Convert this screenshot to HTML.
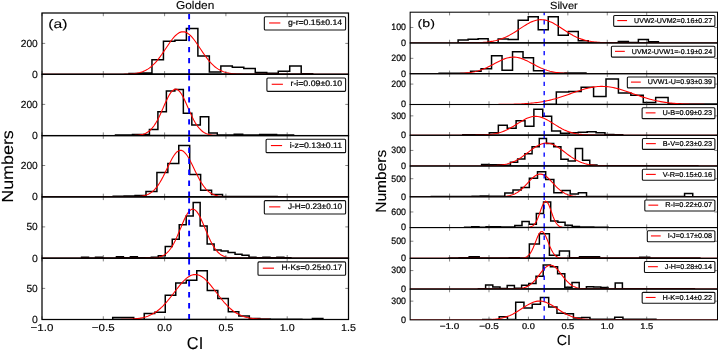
<!DOCTYPE html>
<html><head><meta charset="utf-8"><style>
html,body{margin:0;padding:0;background:#fff;width:718px;height:350px;overflow:hidden}
svg{display:block}
text{font-family:"Liberation Sans",sans-serif;text-rendering:geometricPrecision}
</style></head><body>
<svg width="718" height="350" viewBox="0 0 718 350">
<rect width="718" height="350" fill="#fff"/>
<g style="opacity:0.999">
<clipPath id="c42_0"><rect x="42.0" y="13.00" width="306.50" height="61.30"/></clipPath>
<g clip-path="url(#c42_0)">
<path d="M129.00,74.30 L129.00,73.50 L140.48,73.50 L140.48,72.90 L151.96,72.90 L151.96,59.80 L163.44,59.80 L163.44,41.20 L174.92,41.20 L174.92,40.30 L186.40,40.30 L186.40,28.60 L197.88,28.60 L197.88,56.10 L209.36,56.10 L209.36,71.90 L220.84,71.90 L220.84,66.10 L232.32,66.10 L232.32,67.20 L243.80,67.20 L243.80,68.50 L255.28,68.50 L255.28,72.60 L266.76,72.60 L266.76,73.30 L278.24,73.30 L278.24,71.20 L289.72,71.20 L289.72,66.10 L301.20,66.10 L301.20,73.70 L312.68,73.70 L312.68,74.30Z" fill="none" stroke="#000" stroke-width="1.5" stroke-linejoin="miter"/>
<polyline points="42.00,74.30 43.53,74.30 45.07,74.30 46.60,74.30 48.13,74.30 49.66,74.30 51.19,74.30 52.73,74.30 54.26,74.30 55.79,74.30 57.33,74.30 58.86,74.30 60.39,74.30 61.92,74.30 63.46,74.30 64.99,74.30 66.52,74.30 68.05,74.30 69.58,74.30 71.12,74.30 72.65,74.30 74.18,74.30 75.72,74.30 77.25,74.30 78.78,74.30 80.31,74.30 81.84,74.30 83.38,74.30 84.91,74.30 86.44,74.30 87.97,74.30 89.51,74.30 91.04,74.30 92.57,74.30 94.11,74.30 95.64,74.30 97.17,74.30 98.70,74.30 100.23,74.30 101.77,74.30 103.30,74.30 104.83,74.30 106.37,74.30 107.90,74.30 109.43,74.30 110.96,74.29 112.49,74.29 114.03,74.29 115.56,74.28 117.09,74.27 118.62,74.26 120.16,74.25 121.69,74.23 123.22,74.20 124.76,74.17 126.29,74.12 127.82,74.06 129.35,73.98 130.88,73.88 132.42,73.75 133.95,73.58 135.48,73.38 137.01,73.12 138.55,72.81 140.08,72.43 141.61,71.97 143.14,71.42 144.68,70.77 146.21,70.01 147.74,69.13 149.27,68.11 150.81,66.95 152.34,65.65 153.87,64.20 155.41,62.59 156.94,60.84 158.47,58.94 160.00,56.93 161.54,54.80 163.07,52.58 164.60,50.30 166.13,48.00 167.66,45.70 169.20,43.45 170.73,41.29 172.26,39.26 173.79,37.39 175.33,35.74 176.86,34.33 178.39,33.20 179.93,32.37 181.46,31.87 182.99,31.70 184.52,31.87 186.06,32.37 187.59,33.20 189.12,34.33 190.65,35.74 192.19,37.39 193.72,39.26 195.25,41.29 196.78,43.45 198.31,45.70 199.85,48.00 201.38,50.30 202.91,52.58 204.45,54.80 205.98,56.93 207.51,58.94 209.04,60.84 210.58,62.59 212.11,64.20 213.64,65.65 215.17,66.95 216.71,68.11 218.24,69.13 219.77,70.01 221.30,70.77 222.84,71.42 224.37,71.97 225.90,72.43 227.43,72.81 228.97,73.12 230.50,73.38 232.03,73.58 233.56,73.75 235.09,73.88 236.63,73.98 238.16,74.06 239.69,74.12 241.22,74.17 242.76,74.20 244.29,74.23 245.82,74.25 247.36,74.26 248.89,74.27 250.42,74.28 251.95,74.29 253.49,74.29 255.02,74.29 256.55,74.30 258.08,74.30 259.62,74.30 261.15,74.30 262.68,74.30 264.21,74.30 265.75,74.30 267.28,74.30 268.81,74.30 270.34,74.30 271.88,74.30 273.41,74.30 274.94,74.30 276.47,74.30 278.00,74.30 279.54,74.30 281.07,74.30 282.60,74.30 284.13,74.30 285.67,74.30 287.20,74.30 288.73,74.30 290.26,74.30 291.80,74.30 293.33,74.30 294.86,74.30 296.39,74.30 297.93,74.30 299.46,74.30 300.99,74.30 302.52,74.30 304.06,74.30 305.59,74.30 307.12,74.30 308.65,74.30 310.19,74.30 311.72,74.30 313.25,74.30 314.79,74.30 316.32,74.30 317.85,74.30 319.38,74.30 320.91,74.30 322.45,74.30 323.98,74.30 325.51,74.30 327.05,74.30 328.58,74.30 330.11,74.30 331.64,74.30 333.18,74.30 334.71,74.30 336.24,74.30 337.77,74.30 339.31,74.30 340.84,74.30 342.37,74.30 343.90,74.30 345.44,74.30 346.97,74.30 348.50,74.30" fill="none" stroke="#f00" stroke-width="1.1"/>
<line x1="189.12" y1="74.30" x2="189.12" y2="13.00" stroke="#00f" stroke-width="1.9" stroke-dasharray="5.4 5.6"/>
</g>
<path d="M42.00,74.30v-3.2M42.00,13.00v3.2M103.30,74.30v-3.2M103.30,13.00v3.2M164.60,74.30v-3.2M164.60,13.00v3.2M225.90,74.30v-3.2M225.90,13.00v3.2M287.20,74.30v-3.2M287.20,13.00v3.2M348.50,74.30v-3.2M348.50,13.00v3.2M42.00,43.40h3.2M348.50,43.40h-3.2" stroke="#333" stroke-width="0.6" fill="none"/>
<rect x="42.0" y="13.00" width="306.50" height="61.30" fill="none" stroke="#000" stroke-width="1.25"/>
<text x="37.80" y="46.90" font-size="10.30" text-anchor="end" textLength="17.03" lengthAdjust="spacingAndGlyphs" fill="#000" stroke="#000" stroke-width="0.15">200</text>
<text x="37.80" y="77.80" font-size="10.30" text-anchor="end" textLength="5.85" lengthAdjust="spacingAndGlyphs" fill="#000" stroke="#000" stroke-width="0.15">0</text>
<rect x="264.34" y="16.70" width="81.26" height="13.35" rx="1" fill="#fff" stroke="#111" stroke-width="1.1"/>
<line x1="269.14" y1="22.97" x2="280.34" y2="22.97" stroke="#f00" stroke-width="1.1"/>
<text x="287.94" y="25.15" font-size="8.00" text-anchor="start" textLength="54.26" lengthAdjust="spacingAndGlyphs" fill="#000" stroke="#000" stroke-width="0.22">g-r=0.15±0.14</text>
<clipPath id="c42_1"><rect x="42.0" y="74.30" width="306.50" height="61.30"/></clipPath>
<g clip-path="url(#c42_1)">
<path d="M115.50,135.60 L115.50,134.90 L123.98,134.90 L123.98,134.90 L132.46,134.90 L132.46,134.60 L140.94,134.60 L140.94,134.40 L149.42,134.40 L149.42,129.60 L157.90,129.60 L157.90,111.70 L166.38,111.70 L166.38,91.00 L174.86,91.00 L174.86,89.50 L183.34,89.50 L183.34,113.20 L191.82,113.20 L191.82,124.90 L200.30,124.90 L200.30,116.80 L208.78,116.80 L208.78,132.90 L217.26,132.90 L217.26,135.00 L225.74,135.00 L225.74,135.10 L234.22,135.10 L234.22,134.30 L242.70,134.30 L242.70,135.10 L251.18,135.10 L251.18,135.10 L259.66,135.10 L259.66,134.40 L268.14,134.40 L268.14,134.40 L276.62,134.40 L276.62,135.10 L285.10,135.10 L285.10,134.90 L293.58,134.90 L293.58,135.60Z" fill="none" stroke="#000" stroke-width="1.5" stroke-linejoin="miter"/>
<polyline points="42.00,135.60 43.53,135.60 45.07,135.60 46.60,135.60 48.13,135.60 49.66,135.60 51.19,135.60 52.73,135.60 54.26,135.60 55.79,135.60 57.33,135.60 58.86,135.60 60.39,135.60 61.92,135.60 63.46,135.60 64.99,135.60 66.52,135.60 68.05,135.60 69.58,135.60 71.12,135.60 72.65,135.60 74.18,135.60 75.72,135.60 77.25,135.60 78.78,135.60 80.31,135.60 81.84,135.60 83.38,135.60 84.91,135.60 86.44,135.60 87.97,135.60 89.51,135.60 91.04,135.60 92.57,135.60 94.11,135.60 95.64,135.60 97.17,135.60 98.70,135.60 100.23,135.60 101.77,135.60 103.30,135.60 104.83,135.60 106.37,135.60 107.90,135.60 109.43,135.60 110.96,135.60 112.49,135.60 114.03,135.60 115.56,135.60 117.09,135.60 118.62,135.60 120.16,135.60 121.69,135.60 123.22,135.60 124.76,135.59 126.29,135.59 127.82,135.58 129.35,135.56 130.88,135.54 132.42,135.51 133.95,135.46 135.48,135.38 137.01,135.27 138.55,135.12 140.08,134.91 141.61,134.61 143.14,134.21 144.68,133.68 146.21,132.99 147.74,132.10 149.27,130.99 150.81,129.62 152.34,127.95 153.87,125.98 155.41,123.68 156.94,121.06 158.47,118.15 160.00,114.97 161.54,111.60 163.07,108.10 164.60,104.59 166.13,101.16 167.66,97.95 169.20,95.09 170.73,92.68 172.26,90.83 173.79,89.62 175.33,89.11 176.86,89.33 178.39,90.26 179.93,91.86 181.46,94.06 182.99,96.76 184.52,99.85 186.06,103.20 187.59,106.69 189.12,110.21 190.65,113.64 192.19,116.91 193.72,119.93 195.25,122.67 196.78,125.10 198.31,127.20 199.85,128.99 201.38,130.47 202.91,131.69 204.45,132.66 205.98,133.43 207.51,134.02 209.04,134.46 210.58,134.80 212.11,135.04 213.64,135.22 215.17,135.34 216.71,135.43 218.24,135.49 219.77,135.53 221.30,135.55 222.84,135.57 224.37,135.58 225.90,135.59 227.43,135.59 228.97,135.60 230.50,135.60 232.03,135.60 233.56,135.60 235.09,135.60 236.63,135.60 238.16,135.60 239.69,135.60 241.22,135.60 242.76,135.60 244.29,135.60 245.82,135.60 247.36,135.60 248.89,135.60 250.42,135.60 251.95,135.60 253.49,135.60 255.02,135.60 256.55,135.60 258.08,135.60 259.62,135.60 261.15,135.60 262.68,135.60 264.21,135.60 265.75,135.60 267.28,135.60 268.81,135.60 270.34,135.60 271.88,135.60 273.41,135.60 274.94,135.60 276.47,135.60 278.00,135.60 279.54,135.60 281.07,135.60 282.60,135.60 284.13,135.60 285.67,135.60 287.20,135.60 288.73,135.60 290.26,135.60 291.80,135.60 293.33,135.60 294.86,135.60 296.39,135.60 297.93,135.60 299.46,135.60 300.99,135.60 302.52,135.60 304.06,135.60 305.59,135.60 307.12,135.60 308.65,135.60 310.19,135.60 311.72,135.60 313.25,135.60 314.79,135.60 316.32,135.60 317.85,135.60 319.38,135.60 320.91,135.60 322.45,135.60 323.98,135.60 325.51,135.60 327.05,135.60 328.58,135.60 330.11,135.60 331.64,135.60 333.18,135.60 334.71,135.60 336.24,135.60 337.77,135.60 339.31,135.60 340.84,135.60 342.37,135.60 343.90,135.60 345.44,135.60 346.97,135.60 348.50,135.60" fill="none" stroke="#f00" stroke-width="1.1"/>
<line x1="189.12" y1="135.60" x2="189.12" y2="74.30" stroke="#00f" stroke-width="1.9" stroke-dasharray="5.4 5.6"/>
</g>
<path d="M42.00,135.60v-3.2M42.00,74.30v3.2M103.30,135.60v-3.2M103.30,74.30v3.2M164.60,135.60v-3.2M164.60,74.30v3.2M225.90,135.60v-3.2M225.90,74.30v3.2M287.20,135.60v-3.2M287.20,74.30v3.2M348.50,135.60v-3.2M348.50,74.30v3.2M42.00,104.40h3.2M348.50,104.40h-3.2" stroke="#333" stroke-width="0.6" fill="none"/>
<rect x="42.0" y="74.30" width="306.50" height="61.30" fill="none" stroke="#000" stroke-width="1.25"/>
<text x="37.80" y="107.90" font-size="10.30" text-anchor="end" textLength="17.03" lengthAdjust="spacingAndGlyphs" fill="#000" stroke="#000" stroke-width="0.15">200</text>
<text x="37.80" y="139.10" font-size="10.30" text-anchor="end" textLength="5.85" lengthAdjust="spacingAndGlyphs" fill="#000" stroke="#000" stroke-width="0.15">0</text>
<rect x="266.91" y="78.00" width="78.69" height="13.35" rx="1" fill="#fff" stroke="#111" stroke-width="1.1"/>
<line x1="271.71" y1="84.27" x2="282.91" y2="84.27" stroke="#f00" stroke-width="1.1"/>
<text x="290.51" y="86.45" font-size="8.00" text-anchor="start" textLength="51.69" lengthAdjust="spacingAndGlyphs" fill="#000" stroke="#000" stroke-width="0.22">r-i=0.09±0.10</text>
<clipPath id="c42_2"><rect x="42.0" y="135.60" width="306.50" height="61.30"/></clipPath>
<g clip-path="url(#c42_2)">
<path d="M113.20,196.90 L113.20,196.30 L124.13,196.30 L124.13,196.10 L135.06,196.10 L135.06,195.60 L145.99,195.60 L145.99,191.40 L156.92,191.40 L156.92,172.50 L167.85,172.50 L167.85,163.50 L178.78,163.50 L178.78,145.60 L189.71,145.60 L189.71,174.40 L200.64,174.40 L200.64,190.30 L211.57,190.30 L211.57,194.60 L222.50,194.60 L222.50,196.40 L233.43,196.40 L233.43,196.60 L244.36,196.60 L244.36,196.60 L255.29,196.60 L255.29,196.40 L266.22,196.40 L266.22,196.60 L277.15,196.60 L277.15,196.90Z" fill="none" stroke="#000" stroke-width="1.5" stroke-linejoin="miter"/>
<polyline points="42.00,196.90 43.53,196.90 45.07,196.90 46.60,196.90 48.13,196.90 49.66,196.90 51.19,196.90 52.73,196.90 54.26,196.90 55.79,196.90 57.33,196.90 58.86,196.90 60.39,196.90 61.92,196.90 63.46,196.90 64.99,196.90 66.52,196.90 68.05,196.90 69.58,196.90 71.12,196.90 72.65,196.90 74.18,196.90 75.72,196.90 77.25,196.90 78.78,196.90 80.31,196.90 81.84,196.90 83.38,196.90 84.91,196.90 86.44,196.90 87.97,196.90 89.51,196.90 91.04,196.90 92.57,196.90 94.11,196.90 95.64,196.90 97.17,196.90 98.70,196.90 100.23,196.90 101.77,196.90 103.30,196.90 104.83,196.90 106.37,196.90 107.90,196.90 109.43,196.90 110.96,196.90 112.49,196.90 114.03,196.90 115.56,196.90 117.09,196.90 118.62,196.90 120.16,196.90 121.69,196.90 123.22,196.89 124.76,196.89 126.29,196.89 127.82,196.88 129.35,196.87 130.88,196.85 132.42,196.82 133.95,196.78 135.48,196.72 137.01,196.64 138.55,196.53 140.08,196.38 141.61,196.18 143.14,195.90 144.68,195.54 146.21,195.07 147.74,194.48 149.27,193.73 150.81,192.80 152.34,191.66 153.87,190.30 155.41,188.69 156.94,186.82 158.47,184.68 160.00,182.28 161.54,179.63 163.07,176.76 164.60,173.72 166.13,170.56 167.66,167.35 169.20,164.18 170.73,161.13 172.26,158.30 173.79,155.78 175.33,153.65 176.86,152.00 178.39,150.89 179.93,150.35 181.46,150.41 182.99,151.06 184.52,152.29 186.06,154.04 187.59,156.25 189.12,158.84 190.65,161.72 192.19,164.81 193.72,167.99 195.25,171.20 196.78,174.34 198.31,177.35 199.85,180.18 201.38,182.78 202.91,185.13 204.45,187.22 205.98,189.04 207.51,190.59 209.04,191.91 210.58,193.00 212.11,193.89 213.64,194.61 215.17,195.18 216.71,195.62 218.24,195.96 219.77,196.22 221.30,196.42 222.84,196.56 224.37,196.66 225.90,196.74 227.43,196.79 228.97,196.83 230.50,196.85 232.03,196.87 233.56,196.88 235.09,196.89 236.63,196.89 238.16,196.89 239.69,196.90 241.22,196.90 242.76,196.90 244.29,196.90 245.82,196.90 247.36,196.90 248.89,196.90 250.42,196.90 251.95,196.90 253.49,196.90 255.02,196.90 256.55,196.90 258.08,196.90 259.62,196.90 261.15,196.90 262.68,196.90 264.21,196.90 265.75,196.90 267.28,196.90 268.81,196.90 270.34,196.90 271.88,196.90 273.41,196.90 274.94,196.90 276.47,196.90 278.00,196.90 279.54,196.90 281.07,196.90 282.60,196.90 284.13,196.90 285.67,196.90 287.20,196.90 288.73,196.90 290.26,196.90 291.80,196.90 293.33,196.90 294.86,196.90 296.39,196.90 297.93,196.90 299.46,196.90 300.99,196.90 302.52,196.90 304.06,196.90 305.59,196.90 307.12,196.90 308.65,196.90 310.19,196.90 311.72,196.90 313.25,196.90 314.79,196.90 316.32,196.90 317.85,196.90 319.38,196.90 320.91,196.90 322.45,196.90 323.98,196.90 325.51,196.90 327.05,196.90 328.58,196.90 330.11,196.90 331.64,196.90 333.18,196.90 334.71,196.90 336.24,196.90 337.77,196.90 339.31,196.90 340.84,196.90 342.37,196.90 343.90,196.90 345.44,196.90 346.97,196.90 348.50,196.90" fill="none" stroke="#f00" stroke-width="1.1"/>
<line x1="189.12" y1="196.90" x2="189.12" y2="135.60" stroke="#00f" stroke-width="1.9" stroke-dasharray="5.4 5.6"/>
</g>
<path d="M42.00,196.90v-3.2M42.00,135.60v3.2M103.30,196.90v-3.2M103.30,135.60v3.2M164.60,196.90v-3.2M164.60,135.60v3.2M225.90,196.90v-3.2M225.90,135.60v3.2M287.20,196.90v-3.2M287.20,135.60v3.2M348.50,196.90v-3.2M348.50,135.60v3.2M42.00,165.50h3.2M348.50,165.50h-3.2" stroke="#333" stroke-width="0.6" fill="none"/>
<rect x="42.0" y="135.60" width="306.50" height="61.30" fill="none" stroke="#000" stroke-width="1.25"/>
<text x="37.80" y="169.00" font-size="10.30" text-anchor="end" textLength="17.03" lengthAdjust="spacingAndGlyphs" fill="#000" stroke="#000" stroke-width="0.15">200</text>
<text x="37.80" y="200.40" font-size="10.30" text-anchor="end" textLength="5.85" lengthAdjust="spacingAndGlyphs" fill="#000" stroke="#000" stroke-width="0.15">0</text>
<rect x="266.09" y="139.30" width="79.51" height="13.35" rx="1" fill="#fff" stroke="#111" stroke-width="1.1"/>
<line x1="270.89" y1="145.57" x2="282.09" y2="145.57" stroke="#f00" stroke-width="1.1"/>
<text x="289.69" y="147.75" font-size="8.00" text-anchor="start" textLength="52.51" lengthAdjust="spacingAndGlyphs" fill="#000" stroke="#000" stroke-width="0.22">i-z=0.13±0.11</text>
<clipPath id="c42_3"><rect x="42.0" y="196.90" width="306.50" height="61.30"/></clipPath>
<g clip-path="url(#c42_3)">
<path d="M81.55,258.20 L81.55,257.20 L88.53,257.20 L88.53,258.20 L95.50,258.20 L95.50,257.20 L102.48,257.20 L102.48,258.20 L109.46,258.20 L109.46,258.20 L116.44,258.20 L116.44,256.70 L123.41,256.70 L123.41,257.70 L130.39,257.70 L130.39,256.70 L137.37,256.70 L137.37,257.70 L144.34,257.70 L144.34,257.70 L151.32,257.70 L151.32,257.20 L158.30,257.20 L158.30,255.70 L165.27,255.70 L165.27,246.40 L172.25,246.40 L172.25,239.20 L179.23,239.20 L179.23,224.70 L186.21,224.70 L186.20,216.00 L193.18,216.00 L193.18,202.40 L200.16,202.40 L200.16,226.00 L207.14,226.00 L207.14,243.90 L214.11,243.90 L214.11,250.00 L221.09,250.00 L221.09,251.10 L228.07,251.10 L228.07,252.40 L235.04,252.40 L235.04,254.30 L242.02,254.30 L242.02,255.30 L249.00,255.30 L249.00,257.20 L255.97,257.20 L255.98,257.70 L262.95,257.70 L262.95,257.20 L269.93,257.20 L269.93,257.70 L276.91,257.70 L276.91,257.20 L283.88,257.20 L283.88,257.70 L290.86,257.70 L290.86,258.20Z" fill="none" stroke="#000" stroke-width="1.5" stroke-linejoin="miter"/>
<polyline points="42.00,258.20 43.53,258.20 45.07,258.20 46.60,258.20 48.13,258.20 49.66,258.20 51.19,258.20 52.73,258.20 54.26,258.20 55.79,258.20 57.33,258.20 58.86,258.20 60.39,258.20 61.92,258.20 63.46,258.20 64.99,258.20 66.52,258.20 68.05,258.20 69.58,258.20 71.12,258.20 72.65,258.20 74.18,258.20 75.72,258.20 77.25,258.20 78.78,258.20 80.31,258.20 81.84,258.20 83.38,258.20 84.91,258.20 86.44,258.20 87.97,258.20 89.51,258.20 91.04,258.20 92.57,258.20 94.11,258.20 95.64,258.20 97.17,258.20 98.70,258.20 100.23,258.20 101.77,258.20 103.30,258.20 104.83,258.20 106.37,258.20 107.90,258.20 109.43,258.20 110.96,258.20 112.49,258.20 114.03,258.20 115.56,258.20 117.09,258.20 118.62,258.20 120.16,258.20 121.69,258.20 123.22,258.20 124.76,258.20 126.29,258.20 127.82,258.20 129.35,258.20 130.88,258.20 132.42,258.20 133.95,258.20 135.48,258.20 137.01,258.20 138.55,258.20 140.08,258.20 141.61,258.19 143.14,258.19 144.68,258.18 146.21,258.16 147.74,258.14 149.27,258.11 150.81,258.06 152.34,257.99 153.87,257.88 155.41,257.73 156.94,257.52 158.47,257.23 160.00,256.83 161.54,256.30 163.07,255.61 164.60,254.71 166.13,253.59 167.66,252.19 169.20,250.50 170.73,248.48 172.26,246.13 173.79,243.43 175.33,240.41 176.86,237.11 178.39,233.58 179.93,229.91 181.46,226.19 182.99,222.55 184.52,219.10 186.06,215.99 187.59,213.34 189.12,211.26 190.65,209.85 192.19,209.16 193.72,209.24 195.25,210.07 196.78,211.63 198.31,213.83 199.85,216.58 201.38,219.77 202.91,223.26 204.45,226.93 205.98,230.65 207.51,234.30 209.04,237.79 210.58,241.04 212.11,244.00 213.64,246.62 215.17,248.91 216.71,250.87 218.24,252.50 219.77,253.83 221.30,254.91 222.84,255.76 224.37,256.42 225.90,256.92 227.43,257.29 228.97,257.57 230.50,257.77 232.03,257.91 233.56,258.00 235.09,258.07 236.63,258.12 238.16,258.15 239.69,258.17 241.22,258.18 242.76,258.19 244.29,258.19 245.82,258.20 247.36,258.20 248.89,258.20 250.42,258.20 251.95,258.20 253.49,258.20 255.02,258.20 256.55,258.20 258.08,258.20 259.62,258.20 261.15,258.20 262.68,258.20 264.21,258.20 265.75,258.20 267.28,258.20 268.81,258.20 270.34,258.20 271.88,258.20 273.41,258.20 274.94,258.20 276.47,258.20 278.00,258.20 279.54,258.20 281.07,258.20 282.60,258.20 284.13,258.20 285.67,258.20 287.20,258.20 288.73,258.20 290.26,258.20 291.80,258.20 293.33,258.20 294.86,258.20 296.39,258.20 297.93,258.20 299.46,258.20 300.99,258.20 302.52,258.20 304.06,258.20 305.59,258.20 307.12,258.20 308.65,258.20 310.19,258.20 311.72,258.20 313.25,258.20 314.79,258.20 316.32,258.20 317.85,258.20 319.38,258.20 320.91,258.20 322.45,258.20 323.98,258.20 325.51,258.20 327.05,258.20 328.58,258.20 330.11,258.20 331.64,258.20 333.18,258.20 334.71,258.20 336.24,258.20 337.77,258.20 339.31,258.20 340.84,258.20 342.37,258.20 343.90,258.20 345.44,258.20 346.97,258.20 348.50,258.20" fill="none" stroke="#f00" stroke-width="1.1"/>
<line x1="189.12" y1="258.20" x2="189.12" y2="196.90" stroke="#00f" stroke-width="1.9" stroke-dasharray="5.4 5.6"/>
</g>
<path d="M42.00,258.20v-3.2M42.00,196.90v3.2M103.30,258.20v-3.2M103.30,196.90v3.2M164.60,258.20v-3.2M164.60,196.90v3.2M225.90,258.20v-3.2M225.90,196.90v3.2M287.20,258.20v-3.2M287.20,196.90v3.2M348.50,258.20v-3.2M348.50,196.90v3.2M42.00,226.90h3.2M348.50,226.90h-3.2" stroke="#333" stroke-width="0.6" fill="none"/>
<rect x="42.0" y="196.90" width="306.50" height="61.30" fill="none" stroke="#000" stroke-width="1.25"/>
<text x="37.80" y="230.40" font-size="10.30" text-anchor="end" textLength="11.36" lengthAdjust="spacingAndGlyphs" fill="#000" stroke="#000" stroke-width="0.15">50</text>
<text x="37.80" y="261.70" font-size="10.30" text-anchor="end" textLength="5.85" lengthAdjust="spacingAndGlyphs" fill="#000" stroke="#000" stroke-width="0.15">0</text>
<rect x="264.34" y="200.60" width="81.26" height="13.35" rx="1" fill="#fff" stroke="#111" stroke-width="1.1"/>
<line x1="269.14" y1="206.87" x2="280.34" y2="206.87" stroke="#f00" stroke-width="1.1"/>
<text x="287.94" y="209.05" font-size="8.00" text-anchor="start" textLength="54.26" lengthAdjust="spacingAndGlyphs" fill="#000" stroke="#000" stroke-width="0.22">J-H=0.23±0.10</text>
<clipPath id="c42_4"><rect x="42.0" y="258.20" width="306.50" height="61.30"/></clipPath>
<g clip-path="url(#c42_4)">
<path d="M112.70,319.50 L112.70,317.50 L123.21,317.50 L123.21,317.50 L133.72,317.50 L133.72,319.20 L144.23,319.20 L144.23,313.60 L154.74,313.60 L154.74,312.30 L165.25,312.30 L165.25,295.30 L175.76,295.30 L175.76,282.90 L186.27,282.90 L186.27,280.30 L196.78,280.30 L196.78,270.80 L207.29,270.80 L207.29,290.60 L217.80,290.60 L217.80,298.60 L228.31,298.60 L228.31,311.80 L238.82,311.80 L238.82,316.10 L249.33,316.10 L249.33,318.40 L259.84,318.40 L259.84,319.00 L270.35,319.00 L270.35,319.20 L280.86,319.20 L280.86,319.20 L291.37,319.20 L291.37,319.20 L301.88,319.20 L301.88,319.50 L312.39,319.50 L312.39,318.50 L322.90,318.50 L322.90,319.50Z" fill="none" stroke="#000" stroke-width="1.5" stroke-linejoin="miter"/>
<polyline points="42.00,319.50 43.53,319.50 45.07,319.50 46.60,319.50 48.13,319.50 49.66,319.50 51.19,319.50 52.73,319.50 54.26,319.50 55.79,319.50 57.33,319.50 58.86,319.50 60.39,319.50 61.92,319.50 63.46,319.50 64.99,319.50 66.52,319.50 68.05,319.50 69.58,319.50 71.12,319.50 72.65,319.50 74.18,319.50 75.72,319.50 77.25,319.50 78.78,319.50 80.31,319.50 81.84,319.50 83.38,319.50 84.91,319.50 86.44,319.50 87.97,319.50 89.51,319.50 91.04,319.50 92.57,319.50 94.11,319.50 95.64,319.50 97.17,319.50 98.70,319.50 100.23,319.50 101.77,319.50 103.30,319.50 104.83,319.50 106.37,319.49 107.90,319.49 109.43,319.49 110.96,319.49 112.49,319.48 114.03,319.48 115.56,319.47 117.09,319.46 118.62,319.45 120.16,319.43 121.69,319.41 123.22,319.39 124.76,319.35 126.29,319.31 127.82,319.26 129.35,319.20 130.88,319.12 132.42,319.02 133.95,318.90 135.48,318.76 137.01,318.59 138.55,318.39 140.08,318.15 141.61,317.86 143.14,317.52 144.68,317.13 146.21,316.68 147.74,316.15 149.27,315.55 150.81,314.87 152.34,314.10 153.87,313.23 155.41,312.26 156.94,311.19 158.47,310.02 160.00,308.73 161.54,307.34 163.07,305.84 164.60,304.24 166.13,302.54 167.66,300.76 169.20,298.90 170.73,296.98 172.26,295.01 173.79,293.01 175.33,291.00 176.86,289.01 178.39,287.05 179.93,285.16 181.46,283.35 182.99,281.65 184.52,280.08 186.06,278.67 187.59,277.44 189.12,276.40 190.65,275.58 192.19,274.98 193.72,274.62 195.25,274.50 196.78,274.62 198.31,274.98 199.85,275.58 201.38,276.40 202.91,277.44 204.45,278.67 205.98,280.08 207.51,281.65 209.04,283.35 210.58,285.16 212.11,287.05 213.64,289.01 215.17,291.00 216.71,293.01 218.24,295.01 219.77,296.98 221.30,298.90 222.84,300.76 224.37,302.54 225.90,304.24 227.43,305.84 228.97,307.34 230.50,308.73 232.03,310.02 233.56,311.19 235.09,312.26 236.63,313.23 238.16,314.10 239.69,314.87 241.22,315.55 242.76,316.15 244.29,316.68 245.82,317.13 247.36,317.52 248.89,317.86 250.42,318.15 251.95,318.39 253.49,318.59 255.02,318.76 256.55,318.90 258.08,319.02 259.62,319.12 261.15,319.20 262.68,319.26 264.21,319.31 265.75,319.35 267.28,319.39 268.81,319.41 270.34,319.43 271.88,319.45 273.41,319.46 274.94,319.47 276.47,319.48 278.00,319.48 279.54,319.49 281.07,319.49 282.60,319.49 284.13,319.49 285.67,319.50 287.20,319.50 288.73,319.50 290.26,319.50 291.80,319.50 293.33,319.50 294.86,319.50 296.39,319.50 297.93,319.50 299.46,319.50 300.99,319.50 302.52,319.50 304.06,319.50 305.59,319.50 307.12,319.50 308.65,319.50 310.19,319.50 311.72,319.50 313.25,319.50 314.79,319.50 316.32,319.50 317.85,319.50 319.38,319.50 320.91,319.50 322.45,319.50 323.98,319.50 325.51,319.50 327.05,319.50 328.58,319.50 330.11,319.50 331.64,319.50 333.18,319.50 334.71,319.50 336.24,319.50 337.77,319.50 339.31,319.50 340.84,319.50 342.37,319.50 343.90,319.50 345.44,319.50 346.97,319.50 348.50,319.50" fill="none" stroke="#f00" stroke-width="1.1"/>
<line x1="189.12" y1="319.50" x2="189.12" y2="258.20" stroke="#00f" stroke-width="1.9" stroke-dasharray="5.4 5.6"/>
</g>
<path d="M42.00,319.50v-3.2M42.00,258.20v3.2M103.30,319.50v-3.2M103.30,258.20v3.2M164.60,319.50v-3.2M164.60,258.20v3.2M225.90,319.50v-3.2M225.90,258.20v3.2M287.20,319.50v-3.2M287.20,258.20v3.2M348.50,319.50v-3.2M348.50,258.20v3.2M42.00,288.40h3.2M348.50,288.40h-3.2" stroke="#333" stroke-width="0.6" fill="none"/>
<rect x="42.0" y="258.20" width="306.50" height="61.30" fill="none" stroke="#000" stroke-width="1.25"/>
<text x="37.80" y="291.90" font-size="10.30" text-anchor="end" textLength="11.36" lengthAdjust="spacingAndGlyphs" fill="#000" stroke="#000" stroke-width="0.15">50</text>
<text x="37.80" y="323.00" font-size="10.30" text-anchor="end" textLength="5.85" lengthAdjust="spacingAndGlyphs" fill="#000" stroke="#000" stroke-width="0.15">0</text>
<rect x="257.99" y="261.90" width="87.61" height="13.35" rx="1" fill="#fff" stroke="#111" stroke-width="1.1"/>
<line x1="262.79" y1="268.17" x2="273.99" y2="268.17" stroke="#f00" stroke-width="1.1"/>
<text x="281.59" y="270.35" font-size="8.00" text-anchor="start" textLength="60.61" lengthAdjust="spacingAndGlyphs" fill="#000" stroke="#000" stroke-width="0.22">H-Ks=0.25±0.17</text>
<text x="42.00" y="331.20" font-size="10.00" text-anchor="middle" textLength="22.83" lengthAdjust="spacingAndGlyphs" fill="#000" stroke="#000" stroke-width="0.15">−1.0</text>
<text x="103.30" y="331.20" font-size="10.00" text-anchor="middle" textLength="22.83" lengthAdjust="spacingAndGlyphs" fill="#000" stroke="#000" stroke-width="0.15">−0.5</text>
<text x="164.60" y="331.20" font-size="10.00" text-anchor="middle" textLength="14.95" lengthAdjust="spacingAndGlyphs" fill="#000" stroke="#000" stroke-width="0.15">0.0</text>
<text x="225.90" y="331.20" font-size="10.00" text-anchor="middle" textLength="14.95" lengthAdjust="spacingAndGlyphs" fill="#000" stroke="#000" stroke-width="0.15">0.5</text>
<text x="287.20" y="331.20" font-size="10.00" text-anchor="middle" textLength="14.95" lengthAdjust="spacingAndGlyphs" fill="#000" stroke="#000" stroke-width="0.15">1.0</text>
<text x="348.50" y="331.20" font-size="10.00" text-anchor="middle" textLength="14.95" lengthAdjust="spacingAndGlyphs" fill="#000" stroke="#000" stroke-width="0.15">1.5</text>
<clipPath id="c410_0"><rect x="410.15" y="12.20" width="307.35" height="30.77"/></clipPath>
<g clip-path="url(#c410_0)">
<path d="M458.10,42.97 L458.10,40.07 L468.12,40.07 L468.12,39.17 L478.13,39.17 L478.13,38.67 L488.14,38.67 L488.15,42.67 L498.16,42.67 L498.16,38.97 L508.18,38.97 L508.18,39.57 L518.19,39.57 L518.19,20.37 L528.21,20.37 L528.21,16.67 L538.22,16.67 L538.22,29.87 L548.24,29.87 L548.24,16.67 L558.25,16.67 L558.25,35.17 L568.26,35.17 L568.26,31.57 L578.28,31.57 L578.28,40.87 L588.29,40.87 L588.30,42.97 L598.31,42.97 L598.31,42.97 L608.33,42.97 L608.33,42.97 L618.34,42.97 L618.34,41.57 L628.36,41.57 L628.36,42.57 L638.37,42.57 L638.37,39.47 L648.38,39.47 L648.38,41.87 L658.40,41.87 L658.40,42.97Z" fill="none" stroke="#000" stroke-width="1.5" stroke-linejoin="miter"/>
<polyline points="410.15,42.96 411.69,42.96 413.22,42.96 414.76,42.96 416.30,42.96 417.83,42.96 419.37,42.96 420.91,42.96 422.44,42.96 423.98,42.96 425.52,42.96 427.05,42.96 428.59,42.96 430.13,42.96 431.66,42.96 433.20,42.96 434.74,42.96 436.27,42.96 437.81,42.96 439.35,42.96 440.88,42.96 442.42,42.96 443.96,42.96 445.50,42.96 447.03,42.96 448.57,42.96 450.11,42.96 451.64,42.96 453.18,42.96 454.72,42.96 456.25,42.96 457.79,42.95 459.33,42.95 460.86,42.95 462.40,42.94 463.94,42.93 465.47,42.92 467.01,42.91 468.55,42.89 470.08,42.87 471.62,42.85 473.16,42.82 474.69,42.78 476.23,42.74 477.77,42.68 479.30,42.62 480.84,42.54 482.38,42.44 483.91,42.33 485.45,42.19 486.99,42.04 488.52,41.85 490.06,41.64 491.60,41.39 493.13,41.11 494.67,40.79 496.21,40.43 497.74,40.02 499.28,39.56 500.82,39.05 502.35,38.49 503.89,37.88 505.43,37.21 506.97,36.49 508.50,35.72 510.04,34.89 511.58,34.02 513.11,33.11 514.65,32.16 516.19,31.18 517.72,30.17 519.26,29.16 520.80,28.14 522.33,27.13 523.87,26.13 525.41,25.17 526.94,24.25 528.48,23.39 530.02,22.59 531.55,21.87 533.09,21.23 534.63,20.70 536.16,20.27 537.70,19.95 539.24,19.75 540.77,19.67 542.31,19.71 543.85,19.87 545.38,20.15 546.92,20.54 548.46,21.04 549.99,21.64 551.53,22.33 553.07,23.10 554.60,23.95 556.14,24.85 557.68,25.80 559.21,26.78 560.75,27.79 562.29,28.81 563.83,29.83 565.36,30.83 566.90,31.82 568.44,32.79 569.97,33.71 571.51,34.60 573.05,35.44 574.58,36.23 576.12,36.97 577.66,37.66 579.19,38.29 580.73,38.87 582.27,39.39 583.80,39.87 585.34,40.29 586.88,40.67 588.41,41.01 589.95,41.30 591.49,41.56 593.02,41.78 594.56,41.98 596.10,42.14 597.63,42.28 599.17,42.40 600.71,42.51 602.24,42.59 603.78,42.66 605.32,42.72 606.85,42.77 608.39,42.81 609.93,42.84 611.46,42.87 613.00,42.89 614.54,42.90 616.07,42.92 617.61,42.93 619.15,42.94 620.68,42.94 622.22,42.95 623.76,42.95 625.30,42.96 626.83,42.96 628.37,42.96 629.91,42.96 631.44,42.96 632.98,42.96 634.52,42.96 636.05,42.96 637.59,42.96 639.13,42.96 640.66,42.96 642.20,42.96 643.74,42.96 645.27,42.96 646.81,42.96 648.35,42.96 649.88,42.96 651.42,42.96 652.96,42.96 654.49,42.96 656.03,42.96 657.57,42.96 659.10,42.96 660.64,42.96 662.18,42.96 663.71,42.96 665.25,42.96 666.79,42.96 668.32,42.96 669.86,42.96 671.40,42.96 672.93,42.96 674.47,42.96 676.01,42.96 677.54,42.96 679.08,42.96 680.62,42.96 682.15,42.96 683.69,42.96 685.23,42.96 686.76,42.96 688.30,42.96 689.84,42.96 691.38,42.96 692.91,42.96 694.45,42.96 695.99,42.96 697.52,42.96 699.06,42.96 700.60,42.96 702.13,42.96 703.67,42.96 705.21,42.96 706.74,42.96 708.28,42.96 709.82,42.96 711.35,42.96 712.89,42.96 714.43,42.96 715.96,42.96 717.50,42.96" fill="none" stroke="#f00" stroke-width="1.1"/>
<line x1="544.19" y1="42.97" x2="544.19" y2="12.20" stroke="#00f" stroke-width="1.35" stroke-dasharray="4.4 4.8"/>
</g>
<path d="M449.57,42.97v-3.2M449.57,12.20v3.2M489.00,42.97v-3.2M489.00,12.20v3.2M528.42,42.97v-3.2M528.42,12.20v3.2M567.85,42.97v-3.2M567.85,12.20v3.2M607.27,42.97v-3.2M607.27,12.20v3.2M646.69,42.97v-3.2M646.69,12.20v3.2M410.15,27.47h3.2M717.50,27.47h-3.2" stroke="#333" stroke-width="0.6" fill="none"/>
<rect x="410.15" y="12.20" width="307.35" height="30.77" fill="none" stroke="#000" stroke-width="1.05"/>
<text x="405.95" y="30.37" font-size="9.30" text-anchor="end" textLength="14.63" lengthAdjust="spacingAndGlyphs" fill="#000" stroke="#000" stroke-width="0.22">100</text>
<text x="405.95" y="45.87" font-size="9.30" text-anchor="end" textLength="5.03" lengthAdjust="spacingAndGlyphs" fill="#000" stroke="#000" stroke-width="0.22">0</text>
<rect x="613.66" y="15.45" width="101.24" height="10.9" rx="1" fill="#fff" stroke="#111" stroke-width="1.1"/>
<line x1="617.26" y1="20.57" x2="627.06" y2="20.57" stroke="#f00" stroke-width="1.1"/>
<text x="634.06" y="22.75" font-size="7.00" text-anchor="start" textLength="78.04" lengthAdjust="spacingAndGlyphs" fill="#000" stroke="#000" stroke-width="0.22">UVW2-UVM2=0.16±0.27</text>
<clipPath id="c410_1"><rect x="410.15" y="42.97" width="307.35" height="30.77"/></clipPath>
<g clip-path="url(#c410_1)">
<path d="M439.10,73.73 L439.10,73.23 L449.59,73.23 L449.59,73.23 L460.08,73.23 L460.08,73.23 L470.57,73.23 L470.57,71.33 L481.06,71.33 L481.06,68.73 L491.55,68.73 L491.55,55.73 L502.04,55.73 L502.04,70.33 L512.53,70.33 L512.53,51.83 L523.02,51.83 L523.02,57.83 L533.51,57.83 L533.51,70.83 L544.00,70.83 L544.00,73.13 L554.49,73.13 L554.49,73.23 L564.98,73.23 L564.98,72.93 L575.47,72.93 L575.47,72.93 L585.96,72.93 L585.96,73.73Z" fill="none" stroke="#000" stroke-width="1.5" stroke-linejoin="miter"/>
<polyline points="410.15,73.73 411.69,73.73 413.22,73.73 414.76,73.73 416.30,73.73 417.83,73.73 419.37,73.73 420.91,73.73 422.44,73.73 423.98,73.73 425.52,73.73 427.05,73.73 428.59,73.73 430.13,73.73 431.66,73.73 433.20,73.73 434.74,73.73 436.27,73.73 437.81,73.72 439.35,73.72 440.88,73.72 442.42,73.72 443.96,73.71 445.50,73.70 447.03,73.69 448.57,73.68 450.11,73.67 451.64,73.65 453.18,73.63 454.72,73.60 456.25,73.56 457.79,73.51 459.33,73.45 460.86,73.38 462.40,73.29 463.94,73.19 465.47,73.06 467.01,72.91 468.55,72.73 470.08,72.53 471.62,72.29 473.16,72.01 474.69,71.69 476.23,71.33 477.77,70.92 479.30,70.47 480.84,69.97 482.38,69.42 483.91,68.82 485.45,68.17 486.99,67.48 488.52,66.75 490.06,65.99 491.60,65.20 493.13,64.40 494.67,63.58 496.21,62.76 497.74,61.96 499.28,61.18 500.82,60.44 502.35,59.75 503.89,59.11 505.43,58.55 506.97,58.07 508.50,57.69 510.04,57.40 511.58,57.21 513.11,57.13 514.65,57.16 516.19,57.30 517.72,57.55 519.26,57.90 520.80,58.34 522.33,58.86 523.87,59.47 525.41,60.14 526.94,60.86 528.48,61.62 530.02,62.42 531.55,63.23 533.09,64.05 534.63,64.86 536.16,65.66 537.70,66.43 539.24,67.17 540.77,67.88 542.31,68.55 543.85,69.16 545.38,69.74 546.92,70.26 548.46,70.73 549.99,71.16 551.53,71.54 553.07,71.88 554.60,72.17 556.14,72.43 557.68,72.65 559.21,72.84 560.75,73.00 562.29,73.14 563.83,73.25 565.36,73.35 566.90,73.42 568.44,73.49 569.97,73.54 571.51,73.58 573.05,73.61 574.58,73.64 576.12,73.66 577.66,73.68 579.19,73.69 580.73,73.70 582.27,73.71 583.80,73.71 585.34,73.72 586.88,73.72 588.41,73.72 589.95,73.73 591.49,73.73 593.02,73.73 594.56,73.73 596.10,73.73 597.63,73.73 599.17,73.73 600.71,73.73 602.24,73.73 603.78,73.73 605.32,73.73 606.85,73.73 608.39,73.73 609.93,73.73 611.46,73.73 613.00,73.73 614.54,73.73 616.07,73.73 617.61,73.73 619.15,73.73 620.68,73.73 622.22,73.73 623.76,73.73 625.30,73.73 626.83,73.73 628.37,73.73 629.91,73.73 631.44,73.73 632.98,73.73 634.52,73.73 636.05,73.73 637.59,73.73 639.13,73.73 640.66,73.73 642.20,73.73 643.74,73.73 645.27,73.73 646.81,73.73 648.35,73.73 649.88,73.73 651.42,73.73 652.96,73.73 654.49,73.73 656.03,73.73 657.57,73.73 659.10,73.73 660.64,73.73 662.18,73.73 663.71,73.73 665.25,73.73 666.79,73.73 668.32,73.73 669.86,73.73 671.40,73.73 672.93,73.73 674.47,73.73 676.01,73.73 677.54,73.73 679.08,73.73 680.62,73.73 682.15,73.73 683.69,73.73 685.23,73.73 686.76,73.73 688.30,73.73 689.84,73.73 691.38,73.73 692.91,73.73 694.45,73.73 695.99,73.73 697.52,73.73 699.06,73.73 700.60,73.73 702.13,73.73 703.67,73.73 705.21,73.73 706.74,73.73 708.28,73.73 709.82,73.73 711.35,73.73 712.89,73.73 714.43,73.73 715.96,73.73 717.50,73.73" fill="none" stroke="#f00" stroke-width="1.1"/>
<line x1="544.19" y1="73.73" x2="544.19" y2="42.97" stroke="#00f" stroke-width="1.35" stroke-dasharray="4.4 4.8"/>
</g>
<path d="M449.57,73.73v-3.2M449.57,42.97v3.2M489.00,73.73v-3.2M489.00,42.97v3.2M528.42,73.73v-3.2M528.42,42.97v3.2M567.85,73.73v-3.2M567.85,42.97v3.2M607.27,73.73v-3.2M607.27,42.97v3.2M646.69,73.73v-3.2M646.69,42.97v3.2M410.15,58.33h3.2M717.50,58.33h-3.2" stroke="#333" stroke-width="0.6" fill="none"/>
<rect x="410.15" y="42.97" width="307.35" height="30.77" fill="none" stroke="#000" stroke-width="1.05"/>
<text x="405.95" y="61.23" font-size="9.30" text-anchor="end" textLength="14.63" lengthAdjust="spacingAndGlyphs" fill="#000" stroke="#000" stroke-width="0.22">200</text>
<text x="405.95" y="76.63" font-size="9.30" text-anchor="end" textLength="5.03" lengthAdjust="spacingAndGlyphs" fill="#000" stroke="#000" stroke-width="0.22">0</text>
<rect x="611.40" y="46.22" width="103.50" height="10.9" rx="1" fill="#fff" stroke="#111" stroke-width="1.1"/>
<line x1="615.00" y1="51.34" x2="624.80" y2="51.34" stroke="#f00" stroke-width="1.1"/>
<text x="631.80" y="53.52" font-size="7.00" text-anchor="start" textLength="80.30" lengthAdjust="spacingAndGlyphs" fill="#000" stroke="#000" stroke-width="0.22">UVM2-UVW1=-0.19±0.24</text>
<clipPath id="c410_2"><rect x="410.15" y="73.73" width="307.35" height="30.77"/></clipPath>
<g clip-path="url(#c410_2)">
<path d="M543.90,104.50 L543.90,104.20 L556.32,104.20 L556.32,91.90 L568.74,91.90 L568.74,91.50 L581.16,91.50 L581.16,87.30 L593.58,87.30 L593.58,96.40 L606.00,96.40 L606.00,79.00 L618.42,79.00 L618.42,92.90 L630.84,92.90 L630.84,95.30 L643.26,95.30 L643.26,102.40 L655.68,102.40 L655.68,97.50 L668.10,97.50 L668.10,103.80 L680.52,103.80 L680.52,104.00 L692.94,104.00 L692.94,104.00 L705.36,104.00 L705.36,104.00 L717.78,104.00 L717.78,104.50Z" fill="none" stroke="#000" stroke-width="1.5" stroke-linejoin="miter"/>
<polyline points="410.15,104.49 411.69,104.49 413.22,104.49 414.76,104.49 416.30,104.49 417.83,104.49 419.37,104.49 420.91,104.49 422.44,104.49 423.98,104.49 425.52,104.49 427.05,104.49 428.59,104.49 430.13,104.49 431.66,104.49 433.20,104.49 434.74,104.49 436.27,104.49 437.81,104.49 439.35,104.49 440.88,104.49 442.42,104.49 443.96,104.49 445.50,104.49 447.03,104.49 448.57,104.49 450.11,104.49 451.64,104.49 453.18,104.49 454.72,104.49 456.25,104.49 457.79,104.49 459.33,104.49 460.86,104.49 462.40,104.49 463.94,104.49 465.47,104.49 467.01,104.49 468.55,104.49 470.08,104.49 471.62,104.49 473.16,104.49 474.69,104.49 476.23,104.49 477.77,104.49 479.30,104.49 480.84,104.49 482.38,104.49 483.91,104.48 485.45,104.48 486.99,104.48 488.52,104.47 490.06,104.47 491.60,104.47 493.13,104.46 494.67,104.45 496.21,104.44 497.74,104.44 499.28,104.42 500.82,104.41 502.35,104.40 503.89,104.38 505.43,104.36 506.97,104.34 508.50,104.31 510.04,104.28 511.58,104.25 513.11,104.21 514.65,104.17 516.19,104.12 517.72,104.06 519.26,104.00 520.80,103.93 522.33,103.85 523.87,103.76 525.41,103.66 526.94,103.56 528.48,103.44 530.02,103.30 531.55,103.16 533.09,103.00 534.63,102.82 536.16,102.63 537.70,102.43 539.24,102.20 540.77,101.96 542.31,101.70 543.85,101.42 545.38,101.12 546.92,100.80 548.46,100.46 549.99,100.10 551.53,99.72 553.07,99.33 554.60,98.91 556.14,98.47 557.68,98.01 559.21,97.54 560.75,97.05 562.29,96.55 563.83,96.03 565.36,95.51 566.90,94.97 568.44,94.43 569.97,93.88 571.51,93.34 573.05,92.79 574.58,92.24 576.12,91.71 577.66,91.18 579.19,90.67 580.73,90.17 582.27,89.69 583.80,89.23 585.34,88.80 586.88,88.39 588.41,88.02 589.95,87.68 591.49,87.38 593.02,87.11 594.56,86.88 596.10,86.70 597.63,86.56 599.17,86.46 600.71,86.41 602.24,86.40 603.78,86.43 605.32,86.52 606.85,86.64 608.39,86.81 609.93,87.02 611.46,87.28 613.00,87.57 614.54,87.89 616.07,88.26 617.61,88.65 619.15,89.07 620.68,89.52 622.22,89.99 623.76,90.48 625.30,90.99 626.83,91.52 628.37,92.05 629.91,92.59 631.44,93.14 632.98,93.69 634.52,94.23 636.05,94.78 637.59,95.32 639.13,95.85 640.66,96.37 642.20,96.87 643.74,97.37 645.27,97.85 646.81,98.31 648.35,98.75 649.88,99.18 651.42,99.58 652.96,99.97 654.49,100.34 656.03,100.68 657.57,101.01 659.10,101.32 660.64,101.60 662.18,101.87 663.71,102.12 665.25,102.35 666.79,102.56 668.32,102.76 669.86,102.94 671.40,103.10 672.93,103.25 674.47,103.39 676.01,103.51 677.54,103.63 679.08,103.73 680.62,103.82 682.15,103.90 683.69,103.98 685.23,104.04 686.76,104.10 688.30,104.15 689.84,104.20 691.38,104.24 692.91,104.27 694.45,104.30 695.99,104.33 697.52,104.35 699.06,104.37 700.60,104.39 702.13,104.41 703.67,104.42 705.21,104.43 706.74,104.44 708.28,104.45 709.82,104.46 711.35,104.46 712.89,104.47 714.43,104.47 715.96,104.48 717.50,104.48" fill="none" stroke="#f00" stroke-width="1.1"/>
<line x1="544.19" y1="104.50" x2="544.19" y2="73.73" stroke="#00f" stroke-width="1.35" stroke-dasharray="4.4 4.8"/>
</g>
<path d="M449.57,104.50v-3.2M449.57,73.73v3.2M489.00,104.50v-3.2M489.00,73.73v3.2M528.42,104.50v-3.2M528.42,73.73v3.2M567.85,104.50v-3.2M567.85,73.73v3.2M607.27,104.50v-3.2M607.27,73.73v3.2M646.69,104.50v-3.2M646.69,73.73v3.2M410.15,84.09h3.2M717.50,84.09h-3.2" stroke="#333" stroke-width="0.6" fill="none"/>
<rect x="410.15" y="73.73" width="307.35" height="30.77" fill="none" stroke="#000" stroke-width="1.05"/>
<text x="405.95" y="87.00" font-size="9.30" text-anchor="end" textLength="14.63" lengthAdjust="spacingAndGlyphs" fill="#000" stroke="#000" stroke-width="0.22">200</text>
<text x="405.95" y="107.40" font-size="9.30" text-anchor="end" textLength="5.03" lengthAdjust="spacingAndGlyphs" fill="#000" stroke="#000" stroke-width="0.22">0</text>
<rect x="627.35" y="76.98" width="87.55" height="10.9" rx="1" fill="#fff" stroke="#111" stroke-width="1.1"/>
<line x1="630.95" y1="82.10" x2="640.75" y2="82.10" stroke="#f00" stroke-width="1.1"/>
<text x="647.75" y="84.28" font-size="7.00" text-anchor="start" textLength="64.35" lengthAdjust="spacingAndGlyphs" fill="#000" stroke="#000" stroke-width="0.22">UVW1-U=0.93±0.39</text>
<clipPath id="c410_3"><rect x="410.15" y="104.50" width="307.35" height="30.77"/></clipPath>
<g clip-path="url(#c410_3)">
<path d="M462.80,135.26 L462.80,134.86 L471.69,134.86 L471.69,134.86 L480.57,134.86 L480.57,134.76 L489.45,134.76 L489.46,132.66 L498.34,132.66 L498.34,125.26 L507.23,125.26 L507.23,128.26 L516.11,128.26 L516.11,120.66 L525.00,120.66 L525.00,126.36 L533.88,126.36 L533.88,109.26 L542.76,109.26 L542.76,116.16 L551.65,116.16 L551.65,131.06 L560.53,131.06 L560.53,133.16 L569.42,133.16 L569.42,132.66 L578.31,132.66 L578.31,132.26 L587.19,132.26 L587.19,131.76 L596.08,131.76 L596.08,132.66 L604.96,132.66 L604.96,134.56 L613.85,134.56 L613.85,134.76 L622.73,134.76 L622.73,135.26Z" fill="none" stroke="#000" stroke-width="1.5" stroke-linejoin="miter"/>
<polyline points="410.15,135.26 411.69,135.26 413.22,135.26 414.76,135.26 416.30,135.26 417.83,135.26 419.37,135.26 420.91,135.26 422.44,135.26 423.98,135.26 425.52,135.26 427.05,135.26 428.59,135.26 430.13,135.26 431.66,135.26 433.20,135.26 434.74,135.26 436.27,135.26 437.81,135.26 439.35,135.26 440.88,135.26 442.42,135.26 443.96,135.26 445.50,135.26 447.03,135.26 448.57,135.26 450.11,135.26 451.64,135.26 453.18,135.26 454.72,135.26 456.25,135.26 457.79,135.26 459.33,135.26 460.86,135.26 462.40,135.25 463.94,135.25 465.47,135.25 467.01,135.24 468.55,135.24 470.08,135.23 471.62,135.22 473.16,135.21 474.69,135.19 476.23,135.17 477.77,135.14 479.30,135.11 480.84,135.06 482.38,135.00 483.91,134.93 485.45,134.84 486.99,134.73 488.52,134.60 490.06,134.44 491.60,134.25 493.13,134.03 494.67,133.76 496.21,133.46 497.74,133.10 499.28,132.69 500.82,132.23 502.35,131.71 503.89,131.13 505.43,130.49 506.97,129.79 508.50,129.03 510.04,128.22 511.58,127.35 513.11,126.45 514.65,125.51 516.19,124.55 517.72,123.58 519.26,122.62 520.80,121.67 522.33,120.75 523.87,119.88 525.41,119.08 526.94,118.36 528.48,117.73 530.02,117.21 531.55,116.81 533.09,116.53 534.63,116.38 536.16,116.37 537.70,116.50 539.24,116.75 540.77,117.14 542.31,117.64 543.85,118.25 545.38,118.96 546.92,119.75 548.46,120.61 549.99,121.52 551.53,122.46 553.07,123.43 554.60,124.40 556.14,125.36 557.68,126.30 559.21,127.21 560.75,128.08 562.29,128.90 563.83,129.67 565.36,130.38 566.90,131.03 568.44,131.62 569.97,132.15 571.51,132.62 573.05,133.04 574.58,133.40 576.12,133.72 577.66,133.99 579.19,134.22 580.73,134.41 582.27,134.58 583.80,134.71 585.34,134.83 586.88,134.92 588.41,134.99 589.95,135.05 591.49,135.10 593.02,135.14 594.56,135.17 596.10,135.19 597.63,135.21 599.17,135.22 600.71,135.23 602.24,135.24 603.78,135.24 605.32,135.25 606.85,135.25 608.39,135.25 609.93,135.26 611.46,135.26 613.00,135.26 614.54,135.26 616.07,135.26 617.61,135.26 619.15,135.26 620.68,135.26 622.22,135.26 623.76,135.26 625.30,135.26 626.83,135.26 628.37,135.26 629.91,135.26 631.44,135.26 632.98,135.26 634.52,135.26 636.05,135.26 637.59,135.26 639.13,135.26 640.66,135.26 642.20,135.26 643.74,135.26 645.27,135.26 646.81,135.26 648.35,135.26 649.88,135.26 651.42,135.26 652.96,135.26 654.49,135.26 656.03,135.26 657.57,135.26 659.10,135.26 660.64,135.26 662.18,135.26 663.71,135.26 665.25,135.26 666.79,135.26 668.32,135.26 669.86,135.26 671.40,135.26 672.93,135.26 674.47,135.26 676.01,135.26 677.54,135.26 679.08,135.26 680.62,135.26 682.15,135.26 683.69,135.26 685.23,135.26 686.76,135.26 688.30,135.26 689.84,135.26 691.38,135.26 692.91,135.26 694.45,135.26 695.99,135.26 697.52,135.26 699.06,135.26 700.60,135.26 702.13,135.26 703.67,135.26 705.21,135.26 706.74,135.26 708.28,135.26 709.82,135.26 711.35,135.26 712.89,135.26 714.43,135.26 715.96,135.26 717.50,135.26" fill="none" stroke="#f00" stroke-width="1.1"/>
<line x1="544.19" y1="135.26" x2="544.19" y2="104.50" stroke="#00f" stroke-width="1.35" stroke-dasharray="4.4 4.8"/>
</g>
<path d="M449.57,135.26v-3.2M449.57,104.50v3.2M489.00,135.26v-3.2M489.00,104.50v3.2M528.42,135.26v-3.2M528.42,104.50v3.2M567.85,135.26v-3.2M567.85,104.50v3.2M607.27,135.26v-3.2M607.27,104.50v3.2M646.69,135.26v-3.2M646.69,104.50v3.2M410.15,115.86h3.2M717.50,115.86h-3.2" stroke="#333" stroke-width="0.6" fill="none"/>
<rect x="410.15" y="104.50" width="307.35" height="30.77" fill="none" stroke="#000" stroke-width="1.05"/>
<text x="405.95" y="118.76" font-size="9.30" text-anchor="end" textLength="14.63" lengthAdjust="spacingAndGlyphs" fill="#000" stroke="#000" stroke-width="0.22">300</text>
<text x="405.95" y="138.16" font-size="9.30" text-anchor="end" textLength="5.03" lengthAdjust="spacingAndGlyphs" fill="#000" stroke="#000" stroke-width="0.22">0</text>
<rect x="642.12" y="107.75" width="72.78" height="10.9" rx="1" fill="#fff" stroke="#111" stroke-width="1.1"/>
<line x1="645.72" y1="112.87" x2="655.52" y2="112.87" stroke="#f00" stroke-width="1.1"/>
<text x="662.52" y="115.05" font-size="7.00" text-anchor="start" textLength="49.58" lengthAdjust="spacingAndGlyphs" fill="#000" stroke="#000" stroke-width="0.22">U-B=0.09±0.23</text>
<clipPath id="c410_4"><rect x="410.15" y="135.26" width="307.35" height="30.77"/></clipPath>
<g clip-path="url(#c410_4)">
<path d="M481.60,166.03 L481.60,164.43 L488.81,164.43 L488.81,164.63 L496.02,164.63 L496.02,164.63 L503.23,164.63 L503.23,165.13 L510.44,165.13 L510.44,162.33 L517.65,162.33 L517.65,158.93 L524.86,158.93 L524.86,153.73 L532.07,153.73 L532.07,146.63 L539.28,146.63 L539.28,138.43 L546.49,138.43 L546.49,143.53 L553.70,143.53 L553.70,146.63 L560.91,146.63 L560.91,159.13 L568.12,159.13 L568.12,161.03 L575.33,161.03 L575.33,148.43 L582.54,148.43 L582.54,160.33 L589.75,160.33 L589.75,164.93 L596.96,164.93 L596.96,165.63 L604.17,165.63 L604.17,165.63 L611.38,165.63 L611.38,165.73 L618.59,165.73 L618.59,165.73 L625.80,165.73 L625.80,165.73 L633.01,165.73 L633.01,165.73 L640.22,165.73 L640.22,165.63 L647.43,165.63 L647.43,165.63 L654.64,165.63 L654.64,165.73 L661.85,165.73 L661.85,165.73 L669.06,165.73 L669.06,165.63 L676.27,165.63 L676.27,165.73 L683.48,165.73 L683.48,165.63 L690.69,165.63 L690.69,165.73 L697.90,165.73 L697.90,166.03Z" fill="none" stroke="#000" stroke-width="1.5" stroke-linejoin="miter"/>
<polyline points="410.15,166.02 411.69,166.02 413.22,166.02 414.76,166.02 416.30,166.02 417.83,166.02 419.37,166.02 420.91,166.02 422.44,166.02 423.98,166.02 425.52,166.02 427.05,166.02 428.59,166.02 430.13,166.02 431.66,166.02 433.20,166.02 434.74,166.02 436.27,166.02 437.81,166.02 439.35,166.02 440.88,166.02 442.42,166.02 443.96,166.02 445.50,166.02 447.03,166.02 448.57,166.02 450.11,166.02 451.64,166.02 453.18,166.02 454.72,166.02 456.25,166.02 457.79,166.02 459.33,166.02 460.86,166.02 462.40,166.02 463.94,166.02 465.47,166.02 467.01,166.02 468.55,166.02 470.08,166.02 471.62,166.02 473.16,166.02 474.69,166.02 476.23,166.01 477.77,166.01 479.30,166.00 480.84,165.99 482.38,165.98 483.91,165.97 485.45,165.95 486.99,165.92 488.52,165.89 490.06,165.85 491.60,165.79 493.13,165.73 494.67,165.64 496.21,165.54 497.74,165.41 499.28,165.26 500.82,165.07 502.35,164.85 503.89,164.59 505.43,164.28 506.97,163.91 508.50,163.49 510.04,163.01 511.58,162.46 513.11,161.84 514.65,161.15 516.19,160.39 517.72,159.56 519.26,158.65 520.80,157.68 522.33,156.64 523.87,155.55 525.41,154.43 526.94,153.27 528.48,152.09 530.02,150.92 531.55,149.76 533.09,148.64 534.63,147.58 536.16,146.59 537.70,145.70 539.24,144.92 540.77,144.26 542.31,143.74 543.85,143.38 545.38,143.17 546.92,143.13 548.46,143.25 549.99,143.53 551.53,143.97 553.07,144.55 554.60,145.27 556.14,146.11 557.68,147.05 559.21,148.08 560.75,149.17 562.29,150.31 563.83,151.47 565.36,152.65 566.90,153.82 568.44,154.96 569.97,156.07 571.51,157.14 573.05,158.14 574.58,159.09 576.12,159.96 577.66,160.76 579.19,161.49 580.73,162.14 582.27,162.73 583.80,163.25 585.34,163.70 586.88,164.09 588.41,164.43 589.95,164.72 591.49,164.96 593.02,165.17 594.56,165.34 596.10,165.48 597.63,165.59 599.17,165.68 600.71,165.76 602.24,165.82 603.78,165.87 605.32,165.90 606.85,165.93 608.39,165.96 609.93,165.97 611.46,165.99 613.00,166.00 614.54,166.00 616.07,166.01 617.61,166.01 619.15,166.02 620.68,166.02 622.22,166.02 623.76,166.02 625.30,166.02 626.83,166.02 628.37,166.02 629.91,166.02 631.44,166.02 632.98,166.02 634.52,166.02 636.05,166.02 637.59,166.02 639.13,166.02 640.66,166.02 642.20,166.02 643.74,166.02 645.27,166.02 646.81,166.02 648.35,166.02 649.88,166.02 651.42,166.02 652.96,166.02 654.49,166.02 656.03,166.02 657.57,166.02 659.10,166.02 660.64,166.02 662.18,166.02 663.71,166.02 665.25,166.02 666.79,166.02 668.32,166.02 669.86,166.02 671.40,166.02 672.93,166.02 674.47,166.02 676.01,166.02 677.54,166.02 679.08,166.02 680.62,166.02 682.15,166.02 683.69,166.02 685.23,166.02 686.76,166.02 688.30,166.02 689.84,166.02 691.38,166.02 692.91,166.02 694.45,166.02 695.99,166.03 697.52,166.03 699.06,166.03 700.60,166.03 702.13,166.03 703.67,166.03 705.21,166.03 706.74,166.03 708.28,166.03 709.82,166.03 711.35,166.03 712.89,166.03 714.43,166.03 715.96,166.03 717.50,166.03" fill="none" stroke="#f00" stroke-width="1.1"/>
<line x1="544.19" y1="166.03" x2="544.19" y2="135.26" stroke="#00f" stroke-width="1.35" stroke-dasharray="4.4 4.8"/>
</g>
<path d="M449.57,166.03v-3.2M449.57,135.26v3.2M489.00,166.03v-3.2M489.00,135.26v3.2M528.42,166.03v-3.2M528.42,135.26v3.2M567.85,166.03v-3.2M567.85,135.26v3.2M607.27,166.03v-3.2M607.27,135.26v3.2M646.69,166.03v-3.2M646.69,135.26v3.2M410.15,150.43h3.2M717.50,150.43h-3.2" stroke="#333" stroke-width="0.6" fill="none"/>
<rect x="410.15" y="135.26" width="307.35" height="30.77" fill="none" stroke="#000" stroke-width="1.05"/>
<text x="405.95" y="153.33" font-size="9.30" text-anchor="end" textLength="14.63" lengthAdjust="spacingAndGlyphs" fill="#000" stroke="#000" stroke-width="0.22">300</text>
<text x="405.95" y="168.93" font-size="9.30" text-anchor="end" textLength="5.03" lengthAdjust="spacingAndGlyphs" fill="#000" stroke="#000" stroke-width="0.22">0</text>
<rect x="642.42" y="138.51" width="72.48" height="10.9" rx="1" fill="#fff" stroke="#111" stroke-width="1.1"/>
<line x1="646.02" y1="143.63" x2="655.82" y2="143.63" stroke="#f00" stroke-width="1.1"/>
<text x="662.82" y="145.81" font-size="7.00" text-anchor="start" textLength="49.28" lengthAdjust="spacingAndGlyphs" fill="#000" stroke="#000" stroke-width="0.22">B-V=0.23±0.23</text>
<clipPath id="c410_5"><rect x="410.15" y="166.03" width="307.35" height="30.77"/></clipPath>
<g clip-path="url(#c410_5)">
<path d="M431.30,196.79 L431.30,196.59 L439.47,196.59 L439.47,196.59 L447.64,196.59 L447.64,196.59 L455.81,196.59 L455.81,196.49 L463.98,196.49 L463.98,196.49 L472.15,196.49 L472.15,196.29 L480.32,196.29 L480.32,196.09 L488.49,196.09 L488.49,196.29 L496.66,196.29 L496.66,196.29 L504.83,196.29 L504.83,192.89 L513.00,192.89 L513.00,189.89 L521.17,189.89 L521.17,187.49 L529.34,187.49 L529.34,178.29 L537.51,178.29 L537.51,171.79 L545.68,171.79 L545.68,179.39 L553.85,179.39 L553.85,192.69 L562.02,192.69 L562.02,190.59 L570.19,190.59 L570.19,193.99 L578.36,193.99 L578.36,192.69 L586.53,192.69 L586.53,196.49 L594.70,196.49 L594.70,196.49 L602.87,196.49 L602.87,196.49 L611.04,196.49 L611.04,196.49 L619.21,196.49 L619.21,196.49 L627.38,196.49 L627.38,196.49 L635.55,196.49 L635.55,196.49 L643.72,196.49 L643.72,196.49 L651.89,196.49 L651.89,196.49 L660.06,196.49 L660.06,196.49 L668.23,196.49 L668.23,196.49 L676.40,196.49 L676.40,196.49 L684.57,196.49 L684.57,193.49 L692.74,193.49 L692.74,196.79Z" fill="none" stroke="#000" stroke-width="1.5" stroke-linejoin="miter"/>
<polyline points="410.15,196.79 411.69,196.79 413.22,196.79 414.76,196.79 416.30,196.79 417.83,196.79 419.37,196.79 420.91,196.79 422.44,196.79 423.98,196.79 425.52,196.79 427.05,196.79 428.59,196.79 430.13,196.79 431.66,196.79 433.20,196.79 434.74,196.79 436.27,196.79 437.81,196.79 439.35,196.79 440.88,196.79 442.42,196.79 443.96,196.79 445.50,196.79 447.03,196.79 448.57,196.79 450.11,196.79 451.64,196.79 453.18,196.79 454.72,196.79 456.25,196.79 457.79,196.79 459.33,196.79 460.86,196.79 462.40,196.79 463.94,196.79 465.47,196.79 467.01,196.79 468.55,196.79 470.08,196.79 471.62,196.79 473.16,196.79 474.69,196.79 476.23,196.79 477.77,196.79 479.30,196.79 480.84,196.79 482.38,196.79 483.91,196.79 485.45,196.79 486.99,196.79 488.52,196.78 490.06,196.78 491.60,196.78 493.13,196.77 494.67,196.76 496.21,196.74 497.74,196.71 499.28,196.67 500.82,196.62 502.35,196.54 503.89,196.43 505.43,196.29 506.97,196.09 508.50,195.83 510.04,195.50 511.58,195.08 513.11,194.54 514.65,193.89 516.19,193.11 517.72,192.18 519.26,191.10 520.80,189.88 522.33,188.51 523.87,187.02 525.41,185.43 526.94,183.77 528.48,182.10 530.02,180.45 531.55,178.89 533.09,177.47 534.63,176.24 536.16,175.25 537.70,174.55 539.24,174.16 540.77,174.11 542.31,174.39 543.85,174.99 545.38,175.89 546.92,177.05 548.46,178.42 549.99,179.95 551.53,181.57 553.07,183.24 554.60,184.91 556.14,186.52 557.68,188.05 559.21,189.46 560.75,190.73 562.29,191.85 563.83,192.83 565.36,193.66 566.90,194.35 568.44,194.92 569.97,195.38 571.51,195.74 573.05,196.02 574.58,196.23 576.12,196.39 577.66,196.51 579.19,196.60 580.73,196.66 582.27,196.70 583.80,196.73 585.34,196.75 586.88,196.77 588.41,196.77 589.95,196.78 591.49,196.78 593.02,196.79 594.56,196.79 596.10,196.79 597.63,196.79 599.17,196.79 600.71,196.79 602.24,196.79 603.78,196.79 605.32,196.79 606.85,196.79 608.39,196.79 609.93,196.79 611.46,196.79 613.00,196.79 614.54,196.79 616.07,196.79 617.61,196.79 619.15,196.79 620.68,196.79 622.22,196.79 623.76,196.79 625.30,196.79 626.83,196.79 628.37,196.79 629.91,196.79 631.44,196.79 632.98,196.79 634.52,196.79 636.05,196.79 637.59,196.79 639.13,196.79 640.66,196.79 642.20,196.79 643.74,196.79 645.27,196.79 646.81,196.79 648.35,196.79 649.88,196.79 651.42,196.79 652.96,196.79 654.49,196.79 656.03,196.79 657.57,196.79 659.10,196.79 660.64,196.79 662.18,196.79 663.71,196.79 665.25,196.79 666.79,196.79 668.32,196.79 669.86,196.79 671.40,196.79 672.93,196.79 674.47,196.79 676.01,196.79 677.54,196.79 679.08,196.79 680.62,196.79 682.15,196.79 683.69,196.79 685.23,196.79 686.76,196.79 688.30,196.79 689.84,196.79 691.38,196.79 692.91,196.79 694.45,196.79 695.99,196.79 697.52,196.79 699.06,196.79 700.60,196.79 702.13,196.79 703.67,196.79 705.21,196.79 706.74,196.79 708.28,196.79 709.82,196.79 711.35,196.79 712.89,196.79 714.43,196.79 715.96,196.79 717.50,196.79" fill="none" stroke="#f00" stroke-width="1.1"/>
<line x1="544.19" y1="196.79" x2="544.19" y2="166.03" stroke="#00f" stroke-width="1.35" stroke-dasharray="4.4 4.8"/>
</g>
<path d="M449.57,196.79v-3.2M449.57,166.03v3.2M489.00,196.79v-3.2M489.00,166.03v3.2M528.42,196.79v-3.2M528.42,166.03v3.2M567.85,196.79v-3.2M567.85,166.03v3.2M607.27,196.79v-3.2M607.27,166.03v3.2M646.69,196.79v-3.2M646.69,166.03v3.2M410.15,178.69h3.2M717.50,178.69h-3.2" stroke="#333" stroke-width="0.6" fill="none"/>
<rect x="410.15" y="166.03" width="307.35" height="30.77" fill="none" stroke="#000" stroke-width="1.05"/>
<text x="405.95" y="181.59" font-size="9.30" text-anchor="end" textLength="14.63" lengthAdjust="spacingAndGlyphs" fill="#000" stroke="#000" stroke-width="0.22">500</text>
<text x="405.95" y="199.69" font-size="9.30" text-anchor="end" textLength="5.03" lengthAdjust="spacingAndGlyphs" fill="#000" stroke="#000" stroke-width="0.22">0</text>
<rect x="642.36" y="169.28" width="72.54" height="10.9" rx="1" fill="#fff" stroke="#111" stroke-width="1.1"/>
<line x1="645.96" y1="174.40" x2="655.76" y2="174.40" stroke="#f00" stroke-width="1.1"/>
<text x="662.76" y="176.58" font-size="7.00" text-anchor="start" textLength="49.34" lengthAdjust="spacingAndGlyphs" fill="#000" stroke="#000" stroke-width="0.22">V-R=0.15±0.16</text>
<clipPath id="c410_6"><rect x="410.15" y="196.79" width="307.35" height="30.77"/></clipPath>
<g clip-path="url(#c410_6)">
<path d="M464.60,227.56 L464.60,227.26 L471.78,227.26 L471.78,226.76 L478.95,226.76 L478.95,227.26 L486.13,227.26 L486.12,226.76 L493.30,226.76 L493.30,226.76 L500.48,226.76 L500.48,227.06 L507.65,227.06 L507.65,227.06 L514.83,227.06 L514.83,225.56 L522.00,225.56 L522.00,221.46 L529.17,221.46 L529.18,224.16 L536.35,224.16 L536.35,213.46 L543.52,213.46 L543.52,201.96 L550.70,201.96 L550.70,220.96 L557.88,220.96 L557.88,222.16 L565.05,222.16 L565.05,225.16 L572.23,225.16 L572.23,226.56 L579.40,226.56 L579.40,227.06 L586.57,227.06 L586.58,227.06 L593.75,227.06 L593.75,227.26 L600.92,227.26 L600.92,227.26 L608.10,227.26 L608.10,227.56Z" fill="none" stroke="#000" stroke-width="1.5" stroke-linejoin="miter"/>
<polyline points="410.15,227.56 411.69,227.56 413.22,227.56 414.76,227.56 416.30,227.56 417.83,227.56 419.37,227.56 420.91,227.56 422.44,227.56 423.98,227.56 425.52,227.56 427.05,227.56 428.59,227.56 430.13,227.56 431.66,227.56 433.20,227.56 434.74,227.56 436.27,227.56 437.81,227.56 439.35,227.56 440.88,227.56 442.42,227.56 443.96,227.56 445.50,227.56 447.03,227.56 448.57,227.56 450.11,227.56 451.64,227.56 453.18,227.56 454.72,227.56 456.25,227.56 457.79,227.56 459.33,227.56 460.86,227.56 462.40,227.56 463.94,227.56 465.47,227.56 467.01,227.56 468.55,227.56 470.08,227.56 471.62,227.56 473.16,227.56 474.69,227.56 476.23,227.56 477.77,227.56 479.30,227.56 480.84,227.56 482.38,227.56 483.91,227.56 485.45,227.56 486.99,227.56 488.52,227.56 490.06,227.56 491.60,227.56 493.13,227.56 494.67,227.56 496.21,227.56 497.74,227.56 499.28,227.56 500.82,227.55 502.35,227.55 503.89,227.55 505.43,227.55 506.97,227.55 508.50,227.55 510.04,227.55 511.58,227.55 513.11,227.55 514.65,227.55 516.19,227.55 517.72,227.55 519.26,227.55 520.80,227.55 522.33,227.55 523.87,227.54 525.41,227.53 526.94,227.48 528.48,227.36 530.02,227.11 531.55,226.60 533.09,225.67 534.63,224.11 536.16,221.75 537.70,218.49 539.24,214.45 540.77,210.03 542.31,205.86 543.85,202.71 545.38,201.22 546.92,201.72 548.46,204.11 549.99,207.86 551.53,212.25 553.07,216.54 554.60,220.22 556.14,223.04 557.68,224.98 559.21,226.20 560.75,226.89 562.29,227.26 563.83,227.43 565.36,227.51 566.90,227.54 568.44,227.55 569.97,227.55 571.51,227.55 573.05,227.55 574.58,227.55 576.12,227.55 577.66,227.55 579.19,227.55 580.73,227.55 582.27,227.55 583.80,227.55 585.34,227.55 586.88,227.55 588.41,227.55 589.95,227.55 591.49,227.56 593.02,227.56 594.56,227.56 596.10,227.56 597.63,227.56 599.17,227.56 600.71,227.56 602.24,227.56 603.78,227.56 605.32,227.56 606.85,227.56 608.39,227.56 609.93,227.56 611.46,227.56 613.00,227.56 614.54,227.56 616.07,227.56 617.61,227.56 619.15,227.56 620.68,227.56 622.22,227.56 623.76,227.56 625.30,227.56 626.83,227.56 628.37,227.56 629.91,227.56 631.44,227.56 632.98,227.56 634.52,227.56 636.05,227.56 637.59,227.56 639.13,227.56 640.66,227.56 642.20,227.56 643.74,227.56 645.27,227.56 646.81,227.56 648.35,227.56 649.88,227.56 651.42,227.56 652.96,227.56 654.49,227.56 656.03,227.56 657.57,227.56 659.10,227.56 660.64,227.56 662.18,227.56 663.71,227.56 665.25,227.56 666.79,227.56 668.32,227.56 669.86,227.56 671.40,227.56 672.93,227.56 674.47,227.56 676.01,227.56 677.54,227.56 679.08,227.56 680.62,227.56 682.15,227.56 683.69,227.56 685.23,227.56 686.76,227.56 688.30,227.56 689.84,227.56 691.38,227.56 692.91,227.56 694.45,227.56 695.99,227.56 697.52,227.56 699.06,227.56 700.60,227.56 702.13,227.56 703.67,227.56 705.21,227.56 706.74,227.56 708.28,227.56 709.82,227.56 711.35,227.56 712.89,227.56 714.43,227.56 715.96,227.56 717.50,227.56" fill="none" stroke="#f00" stroke-width="1.1"/>
<line x1="544.19" y1="227.56" x2="544.19" y2="196.79" stroke="#00f" stroke-width="1.35" stroke-dasharray="4.4 4.8"/>
</g>
<path d="M449.57,227.56v-3.2M449.57,196.79v3.2M489.00,227.56v-3.2M489.00,196.79v3.2M528.42,227.56v-3.2M528.42,196.79v3.2M567.85,227.56v-3.2M567.85,196.79v3.2M607.27,227.56v-3.2M607.27,196.79v3.2M646.69,227.56v-3.2M646.69,196.79v3.2M410.15,211.96h3.2M717.50,211.96h-3.2" stroke="#333" stroke-width="0.6" fill="none"/>
<rect x="410.15" y="196.79" width="307.35" height="30.77" fill="none" stroke="#000" stroke-width="1.05"/>
<text x="405.95" y="214.86" font-size="9.30" text-anchor="end" textLength="14.63" lengthAdjust="spacingAndGlyphs" fill="#000" stroke="#000" stroke-width="0.22">600</text>
<text x="405.95" y="230.46" font-size="9.30" text-anchor="end" textLength="5.03" lengthAdjust="spacingAndGlyphs" fill="#000" stroke="#000" stroke-width="0.22">0</text>
<rect x="644.80" y="200.04" width="70.10" height="10.9" rx="1" fill="#fff" stroke="#111" stroke-width="1.1"/>
<line x1="648.40" y1="205.16" x2="658.20" y2="205.16" stroke="#f00" stroke-width="1.1"/>
<text x="665.20" y="207.34" font-size="7.00" text-anchor="start" textLength="46.90" lengthAdjust="spacingAndGlyphs" fill="#000" stroke="#000" stroke-width="0.22">R-I=0.22±0.07</text>
<clipPath id="c410_7"><rect x="410.15" y="227.56" width="307.35" height="30.77"/></clipPath>
<g clip-path="url(#c410_7)">
<path d="M449.10,258.32 L449.10,258.02 L459.13,258.02 L459.13,257.72 L469.16,257.72 L469.16,256.82 L479.19,256.82 L479.19,258.02 L489.22,258.02 L489.22,258.02 L499.25,258.02 L499.25,258.02 L509.28,258.02 L509.28,257.72 L519.31,257.72 L519.31,258.12 L529.34,258.12 L529.34,244.12 L539.37,244.12 L539.37,233.72 L549.40,233.72 L549.40,255.22 L559.43,255.22 L559.43,251.12 L569.46,251.12 L569.46,257.82 L579.49,257.82 L579.49,256.82 L589.52,256.82 L589.52,256.82 L599.55,256.82 L599.55,258.02 L609.58,258.02 L609.58,258.02 L619.61,258.02 L619.61,258.02 L629.64,258.02 L629.64,258.02 L639.67,258.02 L639.67,257.32 L649.70,257.32 L649.70,258.02 L659.73,258.02 L659.73,258.02 L669.76,258.02 L669.76,258.02 L679.79,258.02 L679.79,258.02 L689.82,258.02 L689.82,258.02 L699.85,258.02 L699.85,258.32Z" fill="none" stroke="#000" stroke-width="1.5" stroke-linejoin="miter"/>
<polyline points="410.15,258.32 411.69,258.32 413.22,258.32 414.76,258.32 416.30,258.32 417.83,258.32 419.37,258.32 420.91,258.32 422.44,258.32 423.98,258.32 425.52,258.32 427.05,258.32 428.59,258.32 430.13,258.32 431.66,258.32 433.20,258.32 434.74,258.32 436.27,258.32 437.81,258.32 439.35,258.32 440.88,258.32 442.42,258.32 443.96,258.32 445.50,258.32 447.03,258.32 448.57,258.32 450.11,258.32 451.64,258.32 453.18,258.32 454.72,258.32 456.25,258.32 457.79,258.32 459.33,258.32 460.86,258.32 462.40,258.32 463.94,258.32 465.47,258.32 467.01,258.32 468.55,258.32 470.08,258.32 471.62,258.32 473.16,258.32 474.69,258.32 476.23,258.32 477.77,258.32 479.30,258.32 480.84,258.32 482.38,258.32 483.91,258.32 485.45,258.32 486.99,258.32 488.52,258.32 490.06,258.32 491.60,258.32 493.13,258.32 494.67,258.32 496.21,258.32 497.74,258.32 499.28,258.32 500.82,258.32 502.35,258.32 503.89,258.32 505.43,258.32 506.97,258.32 508.50,258.32 510.04,258.32 511.58,258.32 513.11,258.32 514.65,258.32 516.19,258.31 517.72,258.30 519.26,258.28 520.80,258.22 522.33,258.09 523.87,257.85 525.41,257.41 526.94,256.66 528.48,255.45 530.02,253.66 531.55,251.18 533.09,248.01 534.63,244.30 536.16,240.34 537.70,236.60 539.24,233.59 540.77,231.79 542.31,231.50 543.85,232.77 545.38,235.38 546.92,238.91 548.46,242.84 549.99,246.69 551.53,250.08 553.07,252.82 554.60,254.86 556.14,256.27 557.68,257.18 559.21,257.72 560.75,258.02 562.29,258.18 563.83,258.26 565.36,258.29 566.90,258.31 568.44,258.32 569.97,258.32 571.51,258.32 573.05,258.32 574.58,258.32 576.12,258.32 577.66,258.32 579.19,258.32 580.73,258.32 582.27,258.32 583.80,258.32 585.34,258.32 586.88,258.32 588.41,258.32 589.95,258.32 591.49,258.32 593.02,258.32 594.56,258.32 596.10,258.32 597.63,258.32 599.17,258.32 600.71,258.32 602.24,258.32 603.78,258.32 605.32,258.32 606.85,258.32 608.39,258.32 609.93,258.32 611.46,258.32 613.00,258.32 614.54,258.32 616.07,258.32 617.61,258.32 619.15,258.32 620.68,258.32 622.22,258.32 623.76,258.32 625.30,258.32 626.83,258.32 628.37,258.32 629.91,258.32 631.44,258.32 632.98,258.32 634.52,258.32 636.05,258.32 637.59,258.32 639.13,258.32 640.66,258.32 642.20,258.32 643.74,258.32 645.27,258.32 646.81,258.32 648.35,258.32 649.88,258.32 651.42,258.32 652.96,258.32 654.49,258.32 656.03,258.32 657.57,258.32 659.10,258.32 660.64,258.32 662.18,258.32 663.71,258.32 665.25,258.32 666.79,258.32 668.32,258.32 669.86,258.32 671.40,258.32 672.93,258.32 674.47,258.32 676.01,258.32 677.54,258.32 679.08,258.32 680.62,258.32 682.15,258.32 683.69,258.32 685.23,258.32 686.76,258.32 688.30,258.32 689.84,258.32 691.38,258.32 692.91,258.32 694.45,258.32 695.99,258.32 697.52,258.32 699.06,258.32 700.60,258.32 702.13,258.32 703.67,258.32 705.21,258.32 706.74,258.32 708.28,258.32 709.82,258.32 711.35,258.32 712.89,258.32 714.43,258.32 715.96,258.32 717.50,258.32" fill="none" stroke="#f00" stroke-width="1.1"/>
<line x1="544.19" y1="258.32" x2="544.19" y2="227.56" stroke="#00f" stroke-width="1.35" stroke-dasharray="4.4 4.8"/>
</g>
<path d="M449.57,258.32v-3.2M449.57,227.56v3.2M489.00,258.32v-3.2M489.00,227.56v3.2M528.42,258.32v-3.2M528.42,227.56v3.2M567.85,258.32v-3.2M567.85,227.56v3.2M607.27,258.32v-3.2M607.27,227.56v3.2M646.69,258.32v-3.2M646.69,227.56v3.2M410.15,241.22h3.2M717.50,241.22h-3.2" stroke="#333" stroke-width="0.6" fill="none"/>
<rect x="410.15" y="227.56" width="307.35" height="30.77" fill="none" stroke="#000" stroke-width="1.05"/>
<text x="405.95" y="244.12" font-size="9.30" text-anchor="end" textLength="14.63" lengthAdjust="spacingAndGlyphs" fill="#000" stroke="#000" stroke-width="0.22">500</text>
<text x="405.95" y="261.22" font-size="9.30" text-anchor="end" textLength="5.03" lengthAdjust="spacingAndGlyphs" fill="#000" stroke="#000" stroke-width="0.22">0</text>
<rect x="647.31" y="230.81" width="67.59" height="10.9" rx="1" fill="#fff" stroke="#111" stroke-width="1.1"/>
<line x1="650.91" y1="235.93" x2="660.71" y2="235.93" stroke="#f00" stroke-width="1.1"/>
<text x="667.71" y="238.11" font-size="7.00" text-anchor="start" textLength="44.39" lengthAdjust="spacingAndGlyphs" fill="#000" stroke="#000" stroke-width="0.22">I-J=0.17±0.08</text>
<clipPath id="c410_8"><rect x="410.15" y="258.32" width="307.35" height="30.77"/></clipPath>
<g clip-path="url(#c410_8)">
<path d="M478.40,289.09 L478.40,288.69 L485.60,288.69 L485.60,284.99 L492.80,284.99 L492.80,286.99 L500.00,286.99 L500.00,288.39 L507.20,288.39 L507.20,285.59 L514.40,285.59 L514.40,288.19 L521.60,288.19 L521.60,285.19 L528.80,285.19 L528.80,283.59 L536.00,283.59 L536.00,276.29 L543.20,276.29 L543.20,264.99 L550.40,264.99 L550.40,266.79 L557.60,266.79 L557.60,273.79 L564.80,273.79 L564.80,287.29 L572.00,287.29 L572.00,282.39 L579.20,282.39 L579.20,288.69 L586.40,288.69 L586.40,286.79 L593.60,286.79 L593.60,286.99 L600.80,286.99 L600.80,287.39 L608.00,287.39 L608.00,289.09 L615.20,289.09 L615.20,282.89 L622.40,282.89 L622.40,288.69 L629.60,288.69 L629.60,288.69 L636.80,288.69 L636.80,288.79 L644.00,288.79 L644.00,288.79 L651.20,288.79 L651.20,288.69 L658.40,288.69 L658.40,288.79 L665.60,288.79 L665.60,288.79 L672.80,288.79 L672.80,288.69 L680.00,288.69 L680.00,288.79 L687.20,288.79 L687.20,288.79 L694.40,288.79 L694.40,289.09Z" fill="none" stroke="#000" stroke-width="1.5" stroke-linejoin="miter"/>
<polyline points="410.15,289.09 411.69,289.09 413.22,289.09 414.76,289.09 416.30,289.09 417.83,289.09 419.37,289.09 420.91,289.09 422.44,289.09 423.98,289.09 425.52,289.09 427.05,289.09 428.59,289.09 430.13,289.09 431.66,289.09 433.20,289.09 434.74,289.09 436.27,289.09 437.81,289.09 439.35,289.09 440.88,289.09 442.42,289.09 443.96,289.09 445.50,289.09 447.03,289.09 448.57,289.09 450.11,289.09 451.64,289.09 453.18,289.09 454.72,289.09 456.25,289.09 457.79,289.09 459.33,289.08 460.86,289.08 462.40,289.08 463.94,289.08 465.47,289.08 467.01,289.08 468.55,289.08 470.08,289.08 471.62,289.08 473.16,289.08 474.69,289.08 476.23,289.08 477.77,289.08 479.30,289.08 480.84,289.08 482.38,289.08 483.91,289.08 485.45,289.08 486.99,289.08 488.52,289.08 490.06,289.08 491.60,289.08 493.13,289.08 494.67,289.08 496.21,289.08 497.74,289.08 499.28,289.08 500.82,289.08 502.35,289.08 503.89,289.08 505.43,289.08 506.97,289.07 508.50,289.07 510.04,289.06 511.58,289.04 513.11,289.01 514.65,288.96 516.19,288.89 517.72,288.79 519.26,288.65 520.80,288.45 522.33,288.16 523.87,287.78 525.41,287.28 526.94,286.63 528.48,285.82 530.02,284.81 531.55,283.61 533.09,282.19 534.63,280.59 536.16,278.80 537.70,276.88 539.24,274.88 540.77,272.87 542.31,270.93 543.85,269.15 545.38,267.62 546.92,266.41 548.46,265.59 549.99,265.21 551.53,265.29 553.07,265.82 554.60,266.78 556.14,268.11 557.68,269.74 559.21,271.58 560.75,273.56 562.29,275.57 563.83,277.55 565.36,279.43 566.90,281.16 568.44,282.70 569.97,284.04 571.51,285.18 573.05,286.12 574.58,286.87 576.12,287.47 577.66,287.93 579.19,288.27 580.73,288.52 582.27,288.70 583.80,288.83 585.34,288.92 586.88,288.98 588.41,289.02 589.95,289.04 591.49,289.06 593.02,289.07 594.56,289.08 596.10,289.08 597.63,289.08 599.17,289.08 600.71,289.08 602.24,289.08 603.78,289.08 605.32,289.08 606.85,289.08 608.39,289.08 609.93,289.08 611.46,289.08 613.00,289.08 614.54,289.08 616.07,289.08 617.61,289.08 619.15,289.08 620.68,289.08 622.22,289.08 623.76,289.08 625.30,289.08 626.83,289.08 628.37,289.08 629.91,289.08 631.44,289.08 632.98,289.08 634.52,289.08 636.05,289.08 637.59,289.08 639.13,289.08 640.66,289.08 642.20,289.09 643.74,289.09 645.27,289.09 646.81,289.09 648.35,289.09 649.88,289.09 651.42,289.09 652.96,289.09 654.49,289.09 656.03,289.09 657.57,289.09 659.10,289.09 660.64,289.09 662.18,289.09 663.71,289.09 665.25,289.09 666.79,289.09 668.32,289.09 669.86,289.09 671.40,289.09 672.93,289.09 674.47,289.09 676.01,289.09 677.54,289.09 679.08,289.09 680.62,289.09 682.15,289.09 683.69,289.09 685.23,289.09 686.76,289.09 688.30,289.09 689.84,289.09 691.38,289.09 692.91,289.09 694.45,289.09 695.99,289.09 697.52,289.09 699.06,289.09 700.60,289.09 702.13,289.09 703.67,289.09 705.21,289.09 706.74,289.09 708.28,289.09 709.82,289.09 711.35,289.09 712.89,289.09 714.43,289.09 715.96,289.09 717.50,289.09" fill="none" stroke="#f00" stroke-width="1.1"/>
<line x1="544.19" y1="289.09" x2="544.19" y2="258.32" stroke="#00f" stroke-width="1.35" stroke-dasharray="4.4 4.8"/>
</g>
<path d="M449.57,289.09v-3.2M449.57,258.32v3.2M489.00,289.09v-3.2M489.00,258.32v3.2M528.42,289.09v-3.2M528.42,258.32v3.2M567.85,289.09v-3.2M567.85,258.32v3.2M607.27,289.09v-3.2M607.27,258.32v3.2M646.69,289.09v-3.2M646.69,258.32v3.2M410.15,270.59h3.2M717.50,270.59h-3.2" stroke="#333" stroke-width="0.6" fill="none"/>
<rect x="410.15" y="258.32" width="307.35" height="30.77" fill="none" stroke="#000" stroke-width="1.05"/>
<text x="405.95" y="273.49" font-size="9.30" text-anchor="end" textLength="14.63" lengthAdjust="spacingAndGlyphs" fill="#000" stroke="#000" stroke-width="0.22">300</text>
<text x="405.95" y="291.99" font-size="9.30" text-anchor="end" textLength="5.03" lengthAdjust="spacingAndGlyphs" fill="#000" stroke="#000" stroke-width="0.22">0</text>
<rect x="644.45" y="261.57" width="70.45" height="10.9" rx="1" fill="#fff" stroke="#111" stroke-width="1.1"/>
<line x1="648.05" y1="266.69" x2="657.85" y2="266.69" stroke="#f00" stroke-width="1.1"/>
<text x="664.85" y="268.87" font-size="7.00" text-anchor="start" textLength="47.25" lengthAdjust="spacingAndGlyphs" fill="#000" stroke="#000" stroke-width="0.22">J-H=0.28±0.14</text>
<clipPath id="c410_9"><rect x="410.15" y="289.09" width="307.35" height="30.77"/></clipPath>
<g clip-path="url(#c410_9)">
<path d="M482.70,319.85 L482.70,319.55 L490.95,319.55 L490.95,319.65 L499.20,319.65 L499.20,316.85 L507.45,316.85 L507.45,319.45 L515.70,319.45 L515.70,302.15 L523.95,302.15 L523.95,308.05 L532.20,308.05 L532.20,304.15 L540.45,304.15 L540.45,297.55 L548.70,297.55 L548.70,306.95 L556.95,306.95 L556.95,313.35 L565.20,313.35 L565.20,313.65 L573.45,313.65 L573.45,318.05 L581.70,318.05 L581.70,317.55 L589.95,317.55 L589.95,319.35 L598.20,319.35 L598.20,319.35 L606.45,319.35 L606.45,319.35 L614.70,319.35 L614.70,317.15 L622.95,317.15 L622.95,319.25 L631.20,319.25 L631.20,319.25 L639.45,319.25 L639.45,319.25 L647.70,319.25 L647.70,319.25 L655.95,319.25 L655.95,319.85Z" fill="none" stroke="#000" stroke-width="1.5" stroke-linejoin="miter"/>
<polyline points="410.15,319.85 411.69,319.85 413.22,319.85 414.76,319.85 416.30,319.85 417.83,319.85 419.37,319.85 420.91,319.85 422.44,319.85 423.98,319.85 425.52,319.85 427.05,319.85 428.59,319.85 430.13,319.85 431.66,319.85 433.20,319.85 434.74,319.85 436.27,319.85 437.81,319.85 439.35,319.85 440.88,319.85 442.42,319.85 443.96,319.85 445.50,319.85 447.03,319.85 448.57,319.85 450.11,319.85 451.64,319.85 453.18,319.85 454.72,319.85 456.25,319.85 457.79,319.85 459.33,319.85 460.86,319.85 462.40,319.85 463.94,319.85 465.47,319.85 467.01,319.85 468.55,319.85 470.08,319.84 471.62,319.84 473.16,319.84 474.69,319.83 476.23,319.83 477.77,319.82 479.30,319.80 480.84,319.79 482.38,319.77 483.91,319.74 485.45,319.70 486.99,319.66 488.52,319.60 490.06,319.52 491.60,319.43 493.13,319.32 494.67,319.18 496.21,319.01 497.74,318.81 499.28,318.56 500.82,318.28 502.35,317.94 503.89,317.55 505.43,317.11 506.97,316.60 508.50,316.03 510.04,315.39 511.58,314.69 513.11,313.92 514.65,313.09 516.19,312.21 517.72,311.28 519.26,310.31 520.80,309.31 522.33,308.30 523.87,307.30 525.41,306.31 526.94,305.36 528.48,304.46 530.02,303.64 531.55,302.91 533.09,302.28 534.63,301.77 536.16,301.39 537.70,301.15 539.24,301.05 540.77,301.10 542.31,301.30 543.85,301.64 545.38,302.11 546.92,302.71 548.46,303.42 549.99,304.22 551.53,305.09 553.07,306.03 554.60,307.01 556.14,308.01 557.68,309.02 559.21,310.02 560.75,311.00 562.29,311.94 563.83,312.84 565.36,313.68 566.90,314.47 568.44,315.19 569.97,315.85 571.51,316.44 573.05,316.96 574.58,317.43 576.12,317.83 577.66,318.19 579.19,318.49 580.73,318.74 582.27,318.95 583.80,319.13 585.34,319.28 586.88,319.40 588.41,319.50 589.95,319.58 591.49,319.64 593.02,319.69 594.56,319.73 596.10,319.76 597.63,319.78 599.17,319.80 600.71,319.81 602.24,319.82 603.78,319.83 605.32,319.84 606.85,319.84 608.39,319.84 609.93,319.85 611.46,319.85 613.00,319.85 614.54,319.85 616.07,319.85 617.61,319.85 619.15,319.85 620.68,319.85 622.22,319.85 623.76,319.85 625.30,319.85 626.83,319.85 628.37,319.85 629.91,319.85 631.44,319.85 632.98,319.85 634.52,319.85 636.05,319.85 637.59,319.85 639.13,319.85 640.66,319.85 642.20,319.85 643.74,319.85 645.27,319.85 646.81,319.85 648.35,319.85 649.88,319.85 651.42,319.85 652.96,319.85 654.49,319.85 656.03,319.85 657.57,319.85 659.10,319.85 660.64,319.85 662.18,319.85 663.71,319.85 665.25,319.85 666.79,319.85 668.32,319.85 669.86,319.85 671.40,319.85 672.93,319.85 674.47,319.85 676.01,319.85 677.54,319.85 679.08,319.85 680.62,319.85 682.15,319.85 683.69,319.85 685.23,319.85 686.76,319.85 688.30,319.85 689.84,319.85 691.38,319.85 692.91,319.85 694.45,319.85 695.99,319.85 697.52,319.85 699.06,319.85 700.60,319.85 702.13,319.85 703.67,319.85 705.21,319.85 706.74,319.85 708.28,319.85 709.82,319.85 711.35,319.85 712.89,319.85 714.43,319.85 715.96,319.85 717.50,319.85" fill="none" stroke="#f00" stroke-width="1.1"/>
<line x1="544.19" y1="319.85" x2="544.19" y2="289.09" stroke="#00f" stroke-width="1.35" stroke-dasharray="4.4 4.8"/>
</g>
<path d="M449.57,319.85v-3.2M449.57,289.09v3.2M489.00,319.85v-3.2M489.00,289.09v3.2M528.42,319.85v-3.2M528.42,289.09v3.2M567.85,319.85v-3.2M567.85,289.09v3.2M607.27,319.85v-3.2M607.27,289.09v3.2M646.69,319.85v-3.2M646.69,289.09v3.2M410.15,301.15h3.2M717.50,301.15h-3.2" stroke="#333" stroke-width="0.6" fill="none"/>
<rect x="410.15" y="289.09" width="307.35" height="30.77" fill="none" stroke="#000" stroke-width="1.05"/>
<text x="405.95" y="304.05" font-size="9.30" text-anchor="end" textLength="14.63" lengthAdjust="spacingAndGlyphs" fill="#000" stroke="#000" stroke-width="0.22">300</text>
<text x="405.95" y="322.75" font-size="9.30" text-anchor="end" textLength="5.03" lengthAdjust="spacingAndGlyphs" fill="#000" stroke="#000" stroke-width="0.22">0</text>
<rect x="642.18" y="292.34" width="72.72" height="10.9" rx="1" fill="#fff" stroke="#111" stroke-width="1.1"/>
<line x1="645.78" y1="297.46" x2="655.58" y2="297.46" stroke="#f00" stroke-width="1.1"/>
<text x="662.58" y="299.63" font-size="7.00" text-anchor="start" textLength="49.52" lengthAdjust="spacingAndGlyphs" fill="#000" stroke="#000" stroke-width="0.22">H-K=0.14±0.22</text>
<text x="449.57" y="329.40" font-size="8.40" text-anchor="middle" textLength="19.67" lengthAdjust="spacingAndGlyphs" fill="#000" stroke="#000" stroke-width="0.22">−1.0</text>
<text x="489.00" y="329.40" font-size="8.40" text-anchor="middle" textLength="19.67" lengthAdjust="spacingAndGlyphs" fill="#000" stroke="#000" stroke-width="0.22">−0.5</text>
<text x="528.42" y="329.40" font-size="8.40" text-anchor="middle" textLength="12.88" lengthAdjust="spacingAndGlyphs" fill="#000" stroke="#000" stroke-width="0.22">0.0</text>
<text x="567.85" y="329.40" font-size="8.40" text-anchor="middle" textLength="12.88" lengthAdjust="spacingAndGlyphs" fill="#000" stroke="#000" stroke-width="0.22">0.5</text>
<text x="607.27" y="329.40" font-size="8.40" text-anchor="middle" textLength="12.88" lengthAdjust="spacingAndGlyphs" fill="#000" stroke="#000" stroke-width="0.22">1.0</text>
<text x="646.69" y="329.40" font-size="8.40" text-anchor="middle" textLength="12.88" lengthAdjust="spacingAndGlyphs" fill="#000" stroke="#000" stroke-width="0.22">1.5</text>
<text x="195.10" y="8.70" font-size="11.30" text-anchor="middle" textLength="38.32" lengthAdjust="spacingAndGlyphs" fill="#000" stroke="#000" stroke-width="0.12">Golden</text>
<text x="563.90" y="8.50" font-size="10.30" text-anchor="middle" textLength="27.81" lengthAdjust="spacingAndGlyphs" fill="#000" stroke="#000" stroke-width="0.15">Silver</text>
<text x="57.80" y="27.80" font-size="12.30" text-anchor="middle" textLength="19.22" lengthAdjust="spacingAndGlyphs" fill="#000" stroke="#000" stroke-width="0.12">(a)</text>
<text x="426.30" y="26.60" font-size="11.00" text-anchor="middle" textLength="17.40" lengthAdjust="spacingAndGlyphs" fill="#000" stroke="#000" stroke-width="0.12">(b)</text>
<text x="12.90" y="166.50" font-size="16.00" text-anchor="middle" textLength="72.61" lengthAdjust="spacingAndGlyphs" transform="rotate(-90 12.90 166.50)" fill="#000" stroke="#000" stroke-width="0.12">Numbers</text>
<text x="385.90" y="181.30" font-size="14.80" text-anchor="middle" textLength="63.08" lengthAdjust="spacingAndGlyphs" transform="rotate(-90 385.90 181.30)" fill="#000" stroke="#000" stroke-width="0.12">Numbers</text>
<text x="195.00" y="349.00" font-size="17.20" text-anchor="middle" textLength="16.39" lengthAdjust="spacingAndGlyphs" fill="#000" stroke="#000" stroke-width="0.12">CI</text>
<text x="563.80" y="345.40" font-size="14.60" text-anchor="middle" textLength="14.30" lengthAdjust="spacingAndGlyphs" fill="#000" stroke="#000" stroke-width="0.12">CI</text>
</g>
</svg>
</body></html>
